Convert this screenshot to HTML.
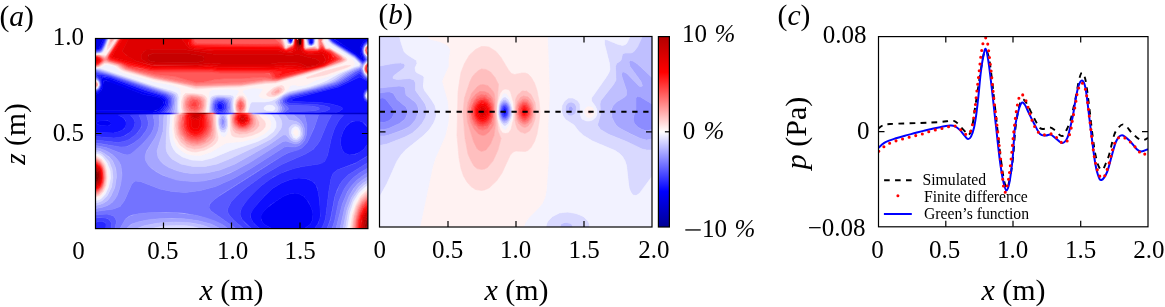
<!DOCTYPE html><html><head><meta charset="utf-8"><style>html,body{margin:0;padding:0;background:#fff;overflow:hidden}svg{display:block;will-change:transform}text{font-family:"Liberation Serif",serif}</style></head><body><svg width="1165" height="307" viewBox="0 0 1165 307" font-family="Liberation Serif, serif"><rect x="0" y="0" width="1165" height="307" fill="#fff"/>
<clipPath id="ca"><rect x="95.5" y="38.5" width="272.4" height="190.1"/></clipPath>
<g clip-path="url(#ca)"><g stroke-width="0.6" fill-rule="evenodd"><path fill="#0000e4" stroke="#0000e4" d="M97 38.5l6.5 0l-3.5 8l-1.5 1.5l-3 0l0 -9.5zM334 38.5l34 0.5l-4.5 2.5l-3.5 6l0 4.5l1.5 4.5l-0.5 1zM104.5 80.5l7 1.5l32 12.5l13.5 2.5l3 1l3 3l0 3.5l-4 4.5l-5 2l-58.5 -0.5l0 -16l3 -1l3.5 -4l1 -5.5z"/>
<path fill="#0000f6" stroke="#0000f6" d="M103 40l0.5 -1.5l1 0.5l-3.5 8.5l-2.5 2l-3 0l0 -1.5l3 0l1.5 -1.5zM290.5 38.5l0.5 0l0.5 1.5l0.5 0l0.5 -1.5l-0.5 2.5l-1.5 1l-0.5 -0.5l-0.5 -3zM310 38.5l2 0l0.5 3l0 1.5l-1 0.5l-1.5 -0.5zM331 38.5l3 0.5l21 13.5l6 5l0.5 -1l-1.5 -4.5l0 -4.5l3.5 -6l4.5 -2.5l0 1l-4 3l-2.5 4.5l0 4.5l2.5 7.5l-1.5 1l-1.5 -1l-6 -5l-13.5 -8.5zM103 77.5l7 1.5l33.5 13l18 5l3.5 3l0 4.5l-2 3l-3 3l-3 1.5l-4.5 1l-57 0l0 -2.5l60 0.5l5 -3.5l3 -4.5l-0.5 -2l-3 -3l-3 -1l-13.5 -2.5l-37.5 -14l-2 0l-0.5 1.5l-1 6l-1.5 3l-2.5 2.5l-3 1l0 -1.5l3 -1l2 -2.5l1.5 -4.5l-0.5 -6zM100 120.5l4.5 0l4 0.5l2.5 1.5l0 1.5l-2 1.5l-1.5 0.5l-7 -0.5l-3.5 -1.5l-0.5 -1.5zM289 194l6 -1l4.5 1l4.5 2.5l3 3.5l4.5 8l1.5 6l-0.5 6l-2.5 4.5l-5.5 4l-33 0l-7 -4l-2.5 -3l-1 -3l0 -3l1.5 -3l4.5 -4.5l8.5 -6.5l7.5 -5z"/>
<path fill="#0d0dff" stroke="#0d0dff" d="M104.5 39l1 -0.5l-1 3l-3 6.5l-3 2l-3 0.5l0 -1l3 0l2.5 -2zM289 38.5l0.5 0l0.5 3l0.5 0.5l1.5 -1l0.5 -2.5l-0.5 3.5l-1.5 0.5l-1.5 -1zM309.5 40l0.5 3l1.5 0.5l1 -0.5l0 -1.5l-0.5 -3l1 0l0 4.5l-1.5 1l-1.5 -0.5l-0.5 -0.5l-0.5 -4.5l0.5 0zM331 38.5l15 10.5l9 5.5l7.5 6l1.5 -1.5l-2.5 -7l0 -4.5l2.5 -5l4 -2.5l0 1l-2.5 1l-2 2.5l-1.5 4.5l0 3l2.5 6l0.5 1.5l-1 1.5l-1.5 0.5l-1.5 -1l-6 -5.5l-19.5 -12l-4 -3l-1 -1.5zM101.5 76l8.5 1.5l35 13l16.5 5l3 1.5l2.5 3l0 3l-1 3l-3.5 4.5l-5 3l-39 1.5l5 3l3 4.5l-1 4.5l-3 3l-4.5 2l-4.5 1l-18 -0.5l0 -19.5l58.5 0l3.5 -1l4 -2.5l3 -3.5l1 -3l-0.5 -3l-3.5 -3l-18 -5l-29.5 -11.5l-9.5 -3l-1.5 0l-1.5 1.5l0.5 6l-1.5 4.5l-2 2.5l-3 1l0 -1l3 -1l2 -3l1 -4.5l-1.5 -6l0.5 -1.5zM99 121l-2.5 1.5l0.5 1.5l3.5 1.5l7 0.5l1.5 -0.5l2 -1.5l0 -1.5l-3.5 -2l-4.5 0zM359.5 77l1.5 0.5l7 4l0 6.5l-3.5 3l-1.5 4.5l1.5 4.5l3.5 3l0 11l-34 -0.5l6 -2.5l2.5 -2l-0.5 -1.5l-3.5 -1.5l-7.5 -2l-10.5 -1.5l-27 -1l-2.5 -1.5l2.5 -1.5l45 -11.5zM218.5 104l1.5 -0.5l2 1l1 3l-1.5 2l-1.5 0l-1.5 -0.5l-1 -3zM355 121l4.5 0l3 1l4.5 5l1 1.5l0 15l-4 5.5l-4.5 3.5l-6 2l-4.5 0.5l-4.5 -2l-2.5 -3.5l-1.5 -6l0.5 -6l2 -6l3 -5l4.5 -4zM290.5 179.5l7.5 -1.5l7.5 0.5l6.5 2.5l4 4l2.5 8l2 18l-0.5 7.5l-2.5 6l-3 4l-10 0l5.5 -4l2.5 -4.5l0.5 -4.5l-1 -6l-3.5 -7.5l-4.5 -5.5l-4.5 -2.5l-6 -1l-6 1.5l-6 3l-10.5 7l-7 6.5l-3 4.5l0 4.5l3.5 4.5l7 4l-11.5 0l-6.5 -5.5l-2.5 -4.5l-0.5 -4.5l2 -4.5l12 -13.5l8 -7.5l9 -5.5z"/>
<path fill="#2626ff" stroke="#2626ff" d="M106 38.5l-4.5 10.5l-2 1.5l-4 0.5l0 -0.5l4.5 -1l1.5 -1.5l4 -9.5zM289 40l0 1.5l1.5 1l1.5 -0.5l1 -3.5l-0.5 3l-2 1l-2 -1l0 -3zM308.5 38.5l1 4.5l2 1l1.5 -1l0.5 -4.5l-0.5 5l-1.5 1l-1.5 0l-1 -1.5zM331 39.5l9 6.5l15 9l7.5 6.5l1.5 -0.5l1 -1.5l-3 -7.5l0.5 -4.5l2 -4.5l3.5 -2l0 0.5l-4 3l-1 3l0 6l2.5 6l-1 1.5l-2 1l-1.5 -1l-6 -5.5l-20.5 -12.5l-3.5 -2.5l-1 -2zM97 74.5l5 0l6.5 1.5l38 14l18 5.5l2 1.5l2 3l0 3l-0.5 3l-3.5 4.5l-4 3l-30 1.5l3.5 4.5l1 3l-0.5 3l-1 3l-2.5 3l-7 4.5l-4.5 1.5l-6 0.5l-18 -1.5l0 -4l18 0.5l6 -1.5l4.5 -2.5l2 -3.5l0 -4.5l-2.5 -3l-5 -3l39 -1.5l6.5 -4.5l2 -3l1 -3l-1 -4.5l-4.5 -3l-16.5 -5l-30.5 -11.5l-10 -3l-3 0l-1.5 1l1 5l0 4.5l-2.5 4.5l-3 1l0 -0.5l3.5 -2l2 -4.5l-1 -4.5l-3 -4.5l-1 -1.5zM358 74l1.5 -0.5l1.5 1l3 3.5l4 2l0 1.5l-7 -4l-1.5 -0.5l-21 10l-45 11.5l-2.5 1.5l2.5 1.5l27 1l10.5 1.5l7.5 2l3.5 1.5l0.5 1.5l-2.5 2l-6 2.5l34 0.5l0 14.5l-2.5 -4l-3 -2.5l-3 -1l-4.5 0l-3 0.5l-3.5 2.5l-3 3l-2.5 4.5l-2 6l-0.5 6l1 4.5l2.5 4.5l5 2.5l3 0l4.5 -1l7 -4.5l4.5 -6l0 12l-11.5 7l-19.5 7.5l-4 3.5l-2 5l-2 11.5l-3.5 28.5l-2 6l-2 4l-7 0l4 -5.5l2 -7.5l-1.5 -19.5l-2 -9l-2.5 -4l-4.5 -3l-4.5 -1.5l-6 -0.5l-9 1.5l-9 3.5l-9 5.5l-7.5 7l-11 12.5l-3.5 6l0 3l2 4.5l2.5 3l5 4l-8.5 0l-9 -8.5l-1.5 -3l-1 -3l1.5 -6l5.5 -8l7.5 -8.5l7 -6l8 -6l10.5 -6l13.5 -5l9 -2l16.5 -2.5l5.5 -2.5l3 -6l4 -18l3 -9l4 -7.5l5 -6l-35.5 -1.5l11 -1l7.5 -1.5l3.5 -2l-0.5 -1.5l-4 -1.5l-9.5 -1.5l-25.5 -1l-3 -1l-1 -1l0 -1.5l1.5 -1.5l3.5 -1.5l29 -6.5l16.5 -4.5l10.5 -5zM367 88.5l1 -0.5l0 1l-3.5 3.5l-0.5 3l0.5 3l3.5 3.5l0 1l-3.5 -3l-1.5 -4.5l1.5 -4.5zM218.5 102l3 0l3 2.5l0 4.5l-3 2.5l-3 -0.5l-2 -2l0 -4.5zM218 104.5l-0.5 3l1 1.5l1.5 0.5l1.5 0l1.5 -2l-1 -3l-2 -1zM98.5 221.5l4 0l3 1.5l1 3l-1 2.5l-10 0l0 -6z"/>
<path fill="#4040ff" stroke="#4040ff" d="M106 38.5l0.5 0l-0.5 1.5l-1.5 4.5l-3 5.5l-3 1.5l-3 0l0 -0.5l4 -0.5l2 -1.5zM288.5 40l0.5 2l1.5 0.5l2 -1l0.5 -3l-0.5 3l-2 1.5l-2 -1.5l-0.5 -3zM308.5 40l0.5 3l1 1.5l1.5 0l2 -1.5l0.5 -4.5l0 3l-1 2.5l-1.5 1l-2 -0.5l-1 -1.5l-0.5 -4.5zM329.5 38.5l3 3l22.5 14l7.5 6.5l1.5 -0.5l1.5 -2l-2.5 -6l0 -6l1 -3l4 -3l-3.5 3l-1.5 4.5l0.5 4.5l2.5 6l-0.5 1.5l-1.5 1.5l-1.5 0.5l-7.5 -7l-22.5 -14zM359.5 71.5l1.5 0.5l4 5.5l3 1.5l0 1l-2.5 -1l-4.5 -4.5l-1.5 -1l-13.5 8l-9 4.5l-16.5 4.5l-29 6.5l-3.5 1.5l-1.5 1.5l0 1.5l1 1l3 1l25.5 1l9.5 1.5l4 1.5l0.5 1.5l-3.5 2l-7.5 1.5l-11 1l35.5 1.5l-5 6l-4 7.5l-3 9l-4 18l-2.5 5.5l-2.5 2l-3.5 1l-19.5 3l-13.5 4l-12 5.5l-12.5 9l-12 12l-6 7.5l-2.5 4.5l-1 4.5l1.5 4.5l3.5 4.5l6.5 5.5l-8 0l-10 -8.5l-5 -6l-1 -3l0.5 -3l3 -6l5.5 -6l8.5 -7.5l18.5 -13.5l18 -10.5l24 -10.5l7.5 -4.5l4 -4.5l3 -4.5l7.5 -18l4 -7.5l-46 -1.5l5 -2l19.5 -0.5l5.5 -0.5l4 -1.5l-1 -1.5l-7 -1.5l-22.5 -0.5l-4 -2.5l-1 -1.5l0.5 -1.5l1.5 -1.5l4.5 -2.5l27 -6l19.5 -5.5l7.5 -3.5zM97 72.5l14 3.5l55 19l2.5 2l1.5 3l0 3l-1 4.5l-2 3l-3.5 3l-24.5 1.5l2.5 6l0.5 3l-1.5 4.5l-4.5 6l-7.5 5.5l-4.5 1.5l-6 1l-22.5 -2.5l0 -3.5l19.5 1.5l6 -1l4.5 -1.5l6 -4.5l3 -5.5l0.5 -3l-1 -3l-3.5 -4.5l30 -1.5l4 -3l2.5 -3l1.5 -3l0 -3l-0.5 -3l-1.5 -1.5l-3.5 -2l-16.5 -5l-33.5 -12.5l-11 -3l-6 0l4 5.5l1 5l-2 4.5l-3.5 2l0 -0.5l3 -1.5l2 -4.5l-0.5 -3l-1.5 -3l-3 -2l0 -4.5zM368 89l-3 3.5l-0.5 3l0.5 3l3 3.5l-3.5 -3.5l-0.5 -3l0.5 -3zM217 101.5l4.5 -1l2.5 1l1.5 1.5l1 3l-0.5 3l-3 3.5l-4.5 0.5l-3 -2.5l-1 -4.5l1 -3zM217 103l-1 3l1 4l3 1.5l3 -1l2 -3l-0.5 -3l-1 -1.5l-3.5 -1.5zM367 156.5l1 -1l0 7l-20 12.5l-4.5 4.5l-3.5 4.5l-3 6l-2.5 7.5l-4 21l-2.5 7.5l-1 2.5l-5.5 0l2 -4l2 -6l3.5 -28.5l2 -11.5l2 -5l4 -3.5l18 -6.5zM97 218l7.5 -0.5l4.5 2l2.5 3.5l-0.5 5.5l-5.5 0l0.5 -4l-0.5 -1.5l-2.5 -1.5l-4.5 0l-3 1l0 -4.5z"/>
<path fill="#5959ff" stroke="#5959ff" d="M106.5 40l-3 7.5l-2 3l-3 1.5l-3 0l0 -0.5l4.5 -0.5l1.5 -1l3 -5.5l2 -6l0.5 0zM288 40l1 2.5l1.5 0.5l2 -1.5l1 -3l-0.5 3l-1 1.5l-1.5 0.5l-1.5 -0.5zM308 40l0.5 3l1.5 1.5l1.5 0.5l2 -2l0.5 -4.5l0 4.5l-1 1.5l-1.5 0.5l-2 -0.5l-1.5 -1.5l-0.5 -4.5zM329.5 39l3 3l22.5 14l7.5 7l1.5 -0.5l2 -3l-2.5 -6l-0.5 -6l1.5 -3l3.5 -2.5l-3.5 4l-1.5 3l0.5 4.5l3.5 6l-1 1.5l-2 2l-1.5 0.5l-8 -7l-22 -14l-3 -2.5zM359.5 70l1.5 0l3.5 6l3.5 2.5l0 0.5l-3 -1.5l-4 -5.5l-1.5 -0.5l-15 9.5l-7.5 3.5l-19.5 5.5l-27 6l-4.5 2.5l-1.5 1.5l-0.5 1.5l1 1.5l4 2.5l22.5 0.5l7 1.5l1 1.5l-4 1.5l-5.5 0.5l-19.5 0.5l-5 2l46 1.5l-4 7.5l-7.5 18l-3 4.5l-4 4.5l-7.5 4.5l-24 10.5l-18 10.5l-18.5 13.5l-8.5 7.5l-5.5 6l-3 6l-0.5 3l1 3l5 6l10 8.5l-7.5 0l-25 -17.5l-2 -3l0.5 -3l2 -3l5.5 -4.5l66 -42l6 -3l12 -4l3 -2.5l3.5 -4l6.5 -13.5l4.5 -13.5l-35.5 -1.5l5.5 -4.5l-0.5 -1.5l-5 -4.5l0 -3l1 -1.5l6.5 -3.5l28.5 -6.5l16.5 -4.5l6 -3l14.5 -9.5zM97 71.5l16.5 4.5l53 18l4 3l1 3l0 4.5l-1.5 4.5l-4 4.5l-19.5 1.5l2 7.5l-0.5 3.5l-1.5 4l-6 8l-6 4.5l-4.5 2.5l-4.5 2l-6 0l-16.5 -3l-7.5 -1l0 -3l22.5 2.5l6 -1l6 -2.5l7.5 -6l4 -6l0 -6l-2.5 -6l24.5 -1.5l4.5 -4.5l1.5 -3l0.5 -4.5l-1.5 -4.5l-5 -3l-17 -5.5l-35.5 -12.5l-15.5 -3.5l0 -1zM97 77.5l2.5 3l1 4.5l-2 4.5l-3 1.5l3 -2l1.5 -4l-1 -4.5l-2 -2.5l-1.5 0l0 -1zM367 90l1 0l-2.5 2.5l-1 3l1 3l2.5 3l-3 -3l-0.5 -3l0.5 -3zM217 100l3 -0.5l3 0l3 2l1 1.5l0.5 3l0 3l-1.5 3l-1.5 1.5l-8 0l-2.5 -3l-0.5 -3l0.5 -3l1 -3zM217 101.5l-1.5 1.5l-1 3l1 4.5l3 2.5l4.5 -0.5l3 -3.5l0.5 -3l-1 -3l-1.5 -1.5l-2.5 -1l-3 0zM368 162.5l0 5.5l-8.5 5l-6.5 5l-4 4.5l-4.5 6l-5.5 12l-4.5 21l-2.5 7l-5 0l3.5 -8.5l4.5 -24l5 -12l3.5 -4.5l4.5 -4.5zM97 214.5l10.5 -0.5l6 2l2 2.5l1 3l-1.5 7l-4 0l0.5 -5.5l-2 -3l-2 -1.5l-6 -1l-6 0.5l0 -3z"/>
<path fill="#7373ff" stroke="#7373ff" d="M107 40l-5 10.5l-2 1.5l-4.5 0.5l4.5 -1l1.5 -1l3 -5l2.5 -7l0.5 0zM287.5 38.5l0.5 3l1 1.5l1.5 0.5l1.5 -0.5l1 -1.5l0.5 -3l-0.5 3l-1 1.5l-1.5 0.5l-1.5 -0.5l-1.5 -3zM308 40l0.5 3.5l1.5 1.5l1.5 0l2.5 -2l0.5 -4.5l0 3l-1.5 3l-1.5 1l-2.5 -1l-1 -1.5zM329.5 39.5l3.5 3.5l22 13.5l7.5 7l1.5 -0.5l3 -3.5l-3.5 -6l-0.5 -4.5l2.5 -4.5l2.5 -2l-3.5 3.5l-1 4.5l1 4.5l3 4.5l-5 5l-7.5 -7.5l-22.5 -14l-2 -1.5zM356.5 70l4.5 -1.5l3 6l4 4l-3.5 -2.5l-3.5 -6l-1.5 0l-3.5 1.5l-14.5 9.5l-6 3l-16.5 4.5l-29.5 7l-3.5 1.5l-3 2.5l-0.5 2l0.5 1.5l5 4.5l0.5 1.5l-5.5 4.5l35.5 1.5l-3.5 10.5l-6 13.5l-2.5 4.5l-4 4l-4.5 2.5l-10.5 3l-12 7l-54.5 34.5l-6 4.5l-5 4.5l-1 3l0 1.5l2 3l25 17.5l-8 0l-5 -3.5l-7.5 -3.5l-16.5 -5.5l-15 -3l-18 -1l-21 1l-13.5 2l-3 1.5l-3 2.5l-5.5 9.5l-5 0l1.5 -7l-1 -3l-2 -2.5l-3 -1l-4.5 -1l-10.5 1l0 -3.5l18 -2.5l6.5 -2.5l4.5 -6l7 -16l1.5 -2l2.5 -1.5l5 0.5l19.5 7.5l12 2.5l13.5 1l15 -2l15 -4l18 -8l16.5 -9.5l34.5 -22l3 -0.5l7.5 0.5l4.5 -1.5l2.5 -2l2.5 -3l2 -6l0.5 -9l-2.5 -10.5l-17 -0.5l-6 -1l3 -4.5l-0.5 -1.5l-3 -4.5l0.5 -3l3 -3l4.5 -2l27 -6.5l19.5 -6l4.5 -2zM97 70.5l13.5 4l55.5 18.5l5 2.5l1.5 3l0.5 6l-2.5 7.5l-1.5 1.5l-16 1.5l1 4.5l0.5 4.5l-1 4.5l-2 4.5l-3.5 5l-6 6.5l-7.5 7l-4.5 3l-3 0.5l-3 -0.5l-18 -7l-10.5 -2l0 -2.5l25.5 4l6 -0.5l6 -3l8 -6l5.5 -7.5l1.5 -4l0.5 -3.5l-2 -7.5l19.5 -1.5l3 -3l1.5 -3l1 -4.5l-0.5 -4.5l-2 -3l-3 -1.5l-57.5 -19.5l-13 -3l0 -1zM97 78l2 2.5l1 4.5l-1.5 4l-3 1.5l3 -2l1 -3.5l-1 -4.5l-1.5 -1.5l-1.5 -0.5l0 -0.5zM367 91l1 -0.5l-2 2l-1 3l1 3l2 2.5l-2.5 -2.5l-1 -3l1 -3zM218.5 98.5l6 0.5l3.5 2.5l1 6l-0.5 3l-1.5 3l-7 0.5l-5.5 -0.5l-0.5 -0.5l-1.5 -5.5l0.5 -4.5l2 -3zM217 100l-2 1.5l-1 3l-0.5 3l0.5 3l2.5 3l8 0l1.5 -1.5l1.5 -3l0 -3l-0.5 -3l-1 -1.5l-3 -2l-3 0zM367 168.5l1 -0.5l0 4.5l-5.5 3.5l-6 4.5l-4.5 5l-4.5 6l-5 12l-6.5 25l-4 0l2.5 -7l4 -19.5l5 -12l4 -6l5.5 -6l6.5 -5z"/>
<path fill="#8c8cff" stroke="#8c8cff" d="M107.5 38.5l-1 4.5l-4 7.5l-2.5 2l-4.5 0.5l4.5 -1l2 -1.5l2.5 -4.5zM287.5 40l1.5 3l1.5 0.5l1.5 -0.5l1 -1.5l1 -3l-0.5 3l-1.5 2l-1.5 0.5l-2 -1zM307 38.5l1.5 5.5l1.5 1.5l1.5 0l1.5 -1l1 -1.5l1 -4.5l0 3l-1.5 3l-2 1l-1.5 0l-1.5 -1l-1 -1.5zM329.5 40l3 3l22.5 14l7.5 7.5l5 -5l-3 -4.5l-1 -4.5l1 -4.5l3.5 -3l-3 3l-1 4.5l0.5 3l3 4.5l0.5 2l-5.5 5.5l0 1l-2.5 -4l-5 -5l-22.5 -14l-3 -2.5l-1 -2.5zM359.5 68l1.5 -1l1.5 1.5l2 6l3.5 3.5l-2.5 -1.5l-1.5 -2l-3 -6l-7.5 3l-13.5 9l-4.5 2l-19.5 6l-27 6.5l-4.5 2l-3 3l-0.5 3l3 4.5l0.5 1.5l-3 4.5l6 1l17 0.5l2.5 10.5l-0.5 9l-2 6l-2.5 3l-2.5 2l-4.5 1.5l-7.5 -0.5l-3 0.5l-34.5 22l-16.5 9.5l-18 8l-15 4l-15 2l-13.5 -1l-12 -2.5l-19.5 -7.5l-5 -0.5l-2.5 1.5l-1.5 2l-7 16l-4.5 6l-6.5 2.5l-18 2.5l0 -3l6 -1l6 -2l4.5 -3l3 -3.5l2.5 -4.5l2.5 -7.5l2 -13.5l-1.5 -9l-4 -6l-5 -4.5l-5.5 -3l-6 -2.5l-4.5 -0.5l0 -2.5l10.5 2l18 7l4.5 0.5l3 -1.5l12 -10.5l8 -10l2 -4.5l1 -4.5l-0.5 -4.5l-1 -4.5l16 -1.5l3 -4.5l1 -7.5l-1 -4.5l-1.5 -2l-3 -1.5l-57 -19l-15 -4l0 -1l15 4.5l57 18.5l5.5 3l1 3l0.5 3l-2 10.5l-0.5 1.5l-13 1.5l0.5 7.5l-1 7.5l-3 7l-9 14l-1 4.5l0 4.5l2.5 4.5l3 3.5l5.5 4l6.5 3.5l15 4.5l15 1.5l9 -0.5l9 -1.5l9 -2.5l10.5 -4l16.5 -9l36 -22.5l3 -0.5l9 3l4.5 -1l3.5 -4l1.5 -4.5l0 -6l-1.5 -4.5l-3.5 -4.5l-5.5 -4.5l-9.5 -0.5l-5 -1l2.5 -4.5l0 -1.5l-2.5 -4.5l0.5 -3l3 -3l6 -3l26 -6l19.5 -6l16.5 -10.5zM97 79l2.5 3l0 3l-1 3.5l-3 1.5l3 -2l1 -3l-1 -4l-1.5 -1.5l-1.5 -0.5l0 -0.5zM368 90.5l-1.5 2l-1 3l1 3l1.5 2l-2 -2l-1 -3l1 -3zM215.5 98.5l3 -1l4.5 0l3.5 1l2.5 1.5l1 3l0.5 4.5l-1.5 6l-6 1l-10 -1l-1.5 -4.5l0.5 -4.5l1.5 -4.5zM218.5 98.5l-3.5 1.5l-2 3l-0.5 4.5l1.5 5.5l0.5 0.5l5.5 0.5l7 -0.5l1.5 -3l0.5 -3l-1 -6l-3.5 -2.5zM223 118.5l1.5 2.5l0 1.5l-1.5 3l-1.5 -1l-0.5 -2l0.5 -3zM367 173l1 -0.5l0 4l-5.5 3.5l-4.5 3.5l-4.5 5l-3.5 6l-5 12l-5 22l-4 0l6 -23.5l5 -12l3.5 -6l5.5 -6l5 -4zM154 212.5l19.5 0l21 2.5l10.5 2.5l9 3l7.5 3.5l6.5 4.5l-8 0l-9 -4.5l-13.5 -3.5l-12 -1.5l-13.5 -1l-16.5 1l-13.5 2l-10.5 3l-5 4.5l-6.5 0l5.5 -9.5l4.5 -3l9 -2.5z"/>
<path fill="#a6a6ff" stroke="#a6a6ff" d="M108 40l-3 7.5l-3 4.5l-2 1l-4.5 0.5l4.5 -1l2.5 -2l3.5 -6.5l2 -5.5zM287 40l1.5 3l2 1l2 -1l1.5 -4.5l-1.5 4.5l-2 1.5l-2.5 -1.5zM307 39l1.5 5.5l1.5 1l1.5 0l1.5 -0.5l1.5 -2l0.5 -4.5l0 3l-1 3l-2.5 1.5l-3 -1l-1 -2zM328 38.5l2 3l2.5 2l22.5 14l5 5l2.5 4l0 -1l5.5 -5.5l0 0.5l-4.5 5l-0.5 3l2 6l3 3l-3.5 -3l-2 -6l-1.5 -1.5l-10 4.5l-13.5 9l-3.5 1.5l-19.5 6l-24 5.5l-6 2.5l-3.5 2.5l-2 3l3 7.5l-2.5 4.5l5 1l9.5 0.5l7 6l2.5 4.5l1 6l-1 6l-2.5 4l-3 2l-3 0.5l-9 -3l-3 0.5l-33 21l-15 8l-16.5 7l-15 3.5l-9 0.5l-9 -0.5l-9 -1l-7.5 -2.5l-7.5 -3l-7 -4l-5.5 -4.5l-3 -4.5l-1 -4.5l1 -4.5l9.5 -15.5l3 -7l1 -7.5l-0.5 -7.5l13 -1.5l0.5 -1.5l2 -10.5l-0.5 -3l-1 -3l-5.5 -3l-57 -18.5l-15 -4.5l0 -0.5l3 0.5l10.5 3l60 19.5l4.5 2l2 3l0.5 3l-1.5 13.5l-10.5 1.5l-1 16.5l-6 19.5l1 6l2 3.5l4 4l5 3l7.5 3l7.5 2l7.5 1l15 -0.5l13.5 -3l15 -6l34.5 -19.5l13.5 -9.5l3 0l4.5 5l3 1.5l3 0.5l3 -1.5l2.5 -3l1 -4.5l-0.5 -4.5l-1.5 -3l-1.5 -2l-3 -2l-7.5 -1.5l-4 -5l-7.5 -1.5l2.5 -4.5l0 -1.5l-2.5 -4.5l1 -3l5 -4.5l5.5 -2.5l22.5 -5l20 -6l6 -3l8.5 -6l9 -4.5l4.5 -1.5l1.5 -1.5l0 -1.5l-1.5 -1.5l-4.5 -4.5l-22.5 -14l-3 -2.5zM367 44l1 0l-2.5 2l-1.5 4.5l0.5 3l3.5 4l0 1l-3 -3.5l-1 -4.5l1 -4.5zM95.5 79l1.5 0.5l1.5 1.5l1 4l-1 3l-3 1.5l2.5 -1.5l1 -3l-0.5 -3.5zM367 91.5l1 0l-1.5 1l-1 3l0.5 1.5l2 3l-1.5 -1.5l-1 -3zM217 97l7.5 0l4.5 1l1.5 1l1 5.5l0 9l-8.5 1.5l-11.5 -1.5l-1 -6l1 -6l2 -3zM215 98.5l-2.5 3l-0.5 3l-0.5 4.5l1.5 4.5l10 1l6 -1l1.5 -6l-0.5 -4.5l-1 -3l-2.5 -1.5l-3.5 -1l-4.5 0zM221.5 116l1.5 -0.5l1.5 1l1.5 4.5l-0.5 4.5l-1 2l-1.5 1l-1.5 -1l-1.5 -3.5l0 -4.5zM221.5 119.5l0 4.5l1.5 1.5l1 -1.5l0.5 -3l-1.5 -2.5zM97 148l4.5 1l6 2.5l6 4l3 3l2.5 3l2 4.5l1 9l-1 7.5l-2 7.5l-2 6l-3 4.5l-3 3l-3.5 2l-6 2l-6 1l0 -3l4.5 -1l4.5 -2l3 -2l3.5 -4.5l4 -9l1.5 -10.5l-0.5 -7.5l-3 -7.5l-3.5 -4.5l-5 -3.5l-4.5 -2.5l-4.5 -0.5l0 -2.5zM365.5 178l2.5 -1.5l0 3.5l-5.5 3.5l-4 3.5l-7 10.5l-4.5 12l-4 19l-3 0l5 -22l4 -10.5l7 -10.5l5 -4.5zM164.5 218.5l18 0l15 2l13.5 3.5l9 4.5l-8.5 0l-8 -3l-10.5 -2.5l-18 -1l-12 0.5l-10.5 1.5l-9.5 2l-6 2.5l-10.5 0l4.5 -4l6.5 -2.5l12 -2.5z"/>
<path fill="#bfbfff" stroke="#bfbfff" d="M108.5 40l-3 7.5l-3 4.5l-2.5 1.5l-4.5 0l4.5 -0.5l2 -1l3 -4.5l3 -9zM287 40l1 3l2.5 1.5l2 -1.5l1.5 -4.5l-1 4.5l-2.5 1.5l-1.5 0l-1.5 -1.5zM306.5 40l1.5 4.5l2 1.5l1.5 0l2.5 -1.5l1 -3l0 -3l0 4.5l-2 3l-3 0.5l-2.5 -2l-1 -3l-0.5 -3zM328 38.5l1.5 3l3 2.5l22.5 14l4.5 4.5l1.5 1.5l0 1.5l-1.5 1.5l-4.5 1.5l-9 4.5l-8.5 6l-6 3l-20 6l-22.5 5l-5.5 2.5l-5 4.5l-1 3l2.5 4.5l0 1.5l-2.5 4.5l7.5 1.5l4 5l7.5 1.5l3 2l1.5 2l1.5 3l0.5 4.5l-1 4.5l-2.5 3l-3 1.5l-3 -0.5l-3 -1.5l-4.5 -5l-3 0l-13.5 9.5l-34.5 19.5l-15 6l-13.5 3l-15 0.5l-7.5 -1l-7.5 -2l-7.5 -3l-5 -3l-4 -4l-2 -3.5l-1 -6l6 -19.5l1 -16.5l10.5 -1.5l1.5 -13.5l-0.5 -3l-2 -3l-4.5 -2l-57 -18.5l-13.5 -4l-3 -0.5l0 -0.5l4.5 0.5l53.5 17.5l17 5l5 2.5l1 1.5l1 3l-0.5 15l-9.5 1.5l-1.5 28.5l0 4.5l1 4.5l2 3l3 3.5l9 5l12 2.5l12 0l12 -2.5l13.5 -5.5l33 -15.5l7.5 -4l5.5 -4.5l4.5 -6l1 -4.5l-1 -4.5l-2 -3l-1 -1.5l-4 -1.5l3 -2.5l1 -2l0 -1.5l-3 -4.5l0 -1.5l8 -6.5l7.5 -3.5l17.5 -3.5l20 -6l6 -3l9 -6l12 -5.5l4.5 -1l0.5 -2.5l-5 -5.5l-24 -15l-2 -2l-1.5 -3zM291.5 125.5l-1.5 1.5l-1 3l1 6l3.5 3.5l3 0.5l1.5 -0.5l2 -2l1.5 -3l-1 -6l-1 -2l-3 -2l-3 0zM367 44.5l1 -0.5l-2.5 2.5l-1 4l0.5 3l3 4l-3.5 -4l-0.5 -3l0.5 -3zM368 60.5l-3 3.5l-2 4.5l1.5 4.5l3.5 4l-3 -2.5l-2 -6l0.5 -3zM97 80l1.5 2l0.5 3l-1 3l-2.5 1l2 -1l1.5 -3l-0.5 -3l-1.5 -1.5l-1.5 -0.5zM214 96.5l4.5 -0.5l9 0l3.5 1l1.5 1.5l0.5 15l-7.5 1.5l1.5 4.5l0 6l-1 3l-1.5 1.5l-1.5 0.5l-1.5 -0.5l-1.5 -1.5l-1.5 -4.5l0 -4.5l1.5 -4.5l-10 -1.5l-0.5 -6l1 -6l1 -3zM216.5 97l-3 1.5l-2 3l-1 6l1 6l11.5 1.5l8.5 -1.5l0 -10.5l-0.5 -3l-1 -1.5l-7 -1.5zM221.5 116.5l-1.5 3l0 4.5l1.5 3.5l1.5 1l1.5 -1l1 -2l0.5 -4.5l-1.5 -4.5l-1.5 -1zM97 150.5l7.5 3l7.5 6.5l3.5 7.5l1 9l-2 12l-4.5 9l-2.5 3l-4.5 3l-7.5 2l0 -2.5l3 -0.5l4 -2l5.5 -6l3.5 -7.5l1.5 -10.5l-1 -7.5l-3 -7.5l-6 -6.5l-3 -2l-4.5 -1l0 -1.5zM367 180.5l1 -0.5l0 3l-4 2l-4.5 4.5l-6.5 9.5l-4.5 12l-3 17.5l-2.5 0l4 -19l4.5 -12l7 -10.5l4 -3.5zM158.5 223l15 -1l15 0.5l13.5 2.5l9.5 3.5l-11.5 0l-11.5 -2.5l-12 -0.5l-13.5 0.5l-11 2.5l-15 0l8 -3z"/>
<path fill="#d9d9ff" stroke="#d9d9ff" d="M109 38.5l-2.5 7.5l-3.5 6.5l-3 1.5l-4.5 0l4.5 -0.5l3 -2zM286.5 40l1 3l1.5 1.5l1.5 0l2.5 -1.5l1 -4.5l-0.5 4l-1.5 2l-1.5 0.5l-2 -0.5l-1.5 -1.5zM306.5 40l1 4.5l1.5 1.5l2.5 0.5l3 -2l1.5 -6l-1 6l-3.5 2l-3 -0.5l-2 -3zM328 40l3 3.5l23 14.5l6 6l-0.5 2.5l-4.5 1l-12 5.5l-9 6l-6 3l-20 6l-17.5 3.5l-7.5 3.5l-8 6.5l0 1.5l3 4.5l0 1.5l-1 2l-3 2.5l4 1.5l1 1.5l2 3l1 4.5l-1 4.5l-4.5 6l-5.5 4.5l-7.5 4l-33 15.5l-13.5 5.5l-12 2.5l-12 0l-12 -2.5l-9 -5l-3 -3.5l-2 -3l-1 -4.5l0 -4.5l1.5 -28.5l9.5 -1.5l0.5 -15l-1 -3l-1 -1.5l-5 -2.5l-17 -5l-53.5 -17.5l-4.5 -0.5l4.5 -0.5l57 18.5l15 4l4.5 2l1.5 1.5l1 3l-0.5 10.5l0.5 6l-8.5 1.5l-1 16.5l0.5 7.5l1.5 6l2 4l2.5 3.5l6.5 4.5l9 3l10.5 0.5l10.5 -2.5l18 -7.5l27 -9l9 -4.5l7 -5.5l2.5 -4.5l0 -4.5l-2 -4.5l-2.5 -3l-5 -1l-19 -0.5l2.5 -9l1.5 -2.5l13.5 0l6 -1l4.5 -2l12 -7.5l22 -5l9.5 -3l7.5 -3l13.5 -7.5l15 -6.5l4 -1l0.5 -1.5l-4.5 -4.5l-22.5 -14l-4.5 -4l-1 -3zM266 106l-2 1.5l0 1.5l2.5 1.5l6 0.5l2.5 -2l0 -1.5l-2.5 -2l-3 -0.5zM368 44l-3 3.5l-0.5 3l0.5 3l3 3.5l-3 -3.5l-0.5 -3l1 -4zM367 62l1 -0.5l-3.5 4l-1 3l1.5 4.5l3 3.5l-3.5 -3.5l-1.5 -4.5l1 -3zM97 80.5l1.5 1.5l0.5 3l-1.5 3l-2 1l1.5 -1l1.5 -3l-0.5 -3l-2.5 -1.5zM367 92.5l1 -0.5l-1.5 2l-0.5 1.5l2 4l-2 -2.5l0 -1.5zM214 95l4.5 -0.5l12 0.5l2.5 0.5l1 1.5l-0.5 9l1 7.5l-7 1.5l0.5 6l0 6l-2 4.5l-1.5 1.5l-3 -0.5l-1.5 -1.5l-1.5 -3.5l-1 -6.5l1 -6l-10 -1.5l1.5 -15l1 -2zM213 97l-1.5 1.5l-1 3l-1 6l0.5 6l10 1.5l-1.5 4.5l0 4.5l1.5 4.5l1.5 1.5l1.5 0.5l1.5 -0.5l1.5 -1.5l1 -3l0 -6l-1.5 -4.5l7.5 -1.5l-0.5 -15l-2 -1.5l-7.5 -1l-6 0zM292 125l4.5 -0.5l3 2l1 2l1 6l-1.5 3l-2 2l-1.5 0.5l-3 -0.5l-2.5 -2l-1.5 -3l-0.5 -3l0 -3zM294.5 127l-2.5 2l-0.5 4l2 4.5l3 1l3 -2.5l0.5 -4.5l-2 -4l-1.5 -0.5zM97 152.5l3 0.5l3.5 2.5l5.5 6l3 7.5l1 9l-1.5 9l-4.5 9l-5.5 5l-6 2l0 -2.5l3 -0.5l3 -1.5l4.5 -5.5l2.5 -6l2 -9l-0.5 -7.5l-3 -7.5l-3 -4.5l-2.5 -2.5l-3 -1.5l-3 -0.5l0 -2zM367 183.5l1 -0.5l0 2.5l-4 2.5l-3.5 3.5l-6 9l-4.5 12l-2.5 16l-2 0l3 -17.5l4.5 -12l6.5 -9.5zM164.5 226l19.5 -0.5l9 1l7 2l-48 0z"/>
<path fill="#f2f2ff" stroke="#f2f2ff" d="M109 38.5l-1 4.5l-3.5 9l-3 2l-6 0.5l6 -1l2 -1.5l3 -6zM284.5 38.5l1.5 0l1 4.5l1.5 1.5l2 0.5l3 -2l1 -4.5l-1 4.5l-1.5 1.5l-1.5 1l-3 -1l-2.5 -3zM305.5 38.5l1.5 6l1 1.5l2 1l3 -1l2 -1.5l1 -6l0.5 0l0.5 3l-1 3l-4.5 2.5l-4.5 -1l-1.5 -1.5zM325 38.5l2 0l1 3l4.5 4l22.5 14l4.5 4.5l-0.5 1.5l-4 1l-15 6.5l-13.5 7.5l-7.5 3l-9.5 3l-22 5l-12 7.5l-4.5 2l-6 1l-13.5 0l-1.5 2.5l-2.5 9l19 0.5l5 1l2.5 3l2 4.5l0 4.5l-2.5 4.5l-7 5.5l-9 4.5l-27 9l-18 7.5l-10.5 2.5l-10.5 -0.5l-9 -3l-6.5 -4.5l-2.5 -3.5l-2 -4l-1.5 -6l-0.5 -7.5l1 -16.5l8.5 -1.5l-0.5 -6l0.5 -10.5l-1 -3l-1.5 -1.5l-4.5 -2l-15 -4l-57 -18.5l-4.5 0l7.5 -1.5l3 -2l6 1l3.5 1.5l4 4l3 1.5l28.5 8l1.5 1l19.5 3.5l7.5 3l1 1.5l0.5 3l-1 13.5l1 7.5l-8 1.5l-1 12l1.5 12l3.5 7.5l5.5 5l4.5 2.5l4.5 1l9 0.5l10.5 -3.5l15 -9l16.5 -1.5l13.5 -3.5l9 -4.5l5 -5l1 -4.5l-0.5 -3l-2.5 -3l-3.5 -3l-18.5 -1.5l2 -6l0 -6l-1.5 -4.5l-3.5 -4.5l-0.5 -1.5l1.5 -1l9 -2l9 0.5l1 1l-3 4.5l-1 1.5l0.5 1.5l4 1.5l9 0l4.5 -1.5l5 -3l6 -4.5l1.5 -3l2.5 -1.5l3.5 0l2.5 1l8 -1l9 -4.5l11.5 -3.5l22 -8.5l5.5 -3l0.5 -3l-4 -4.5l-20 -10.5l-4 -3l-1.5 -3zM368 44.5l-2.5 3l-0.5 3l0.5 3l2.5 3l-3 -3l-0.5 -3l1 -3.5zM367 62.5l1 -0.5l-3.5 3.5l-0.5 3l1 4.5l3 3l-3 -3l-1.5 -4.5l1 -3zM96 80.5l2 1.5l0.5 3l-1.5 3l-1.5 0.5l1.5 -1l1 -2.5l-0.5 -3l-2 -1.5zM214 89.5l16.5 -0.5l6 0.5l3 1.5l-3 5l-2 5.5l0 6l1 6l-7 1.5l0 15l-1.5 4.5l-2.5 3l-3 -1l-3.5 -6.5l-1.5 -7.5l0.5 -7.5l-10.5 -1.5l2.5 -21l1 -1.5zM213 95.5l-2.5 1.5l-1 3l-1 13.5l10 1.5l-1 6l1 6.5l1.5 3.5l1.5 1.5l3 0.5l1.5 -1.5l2 -4.5l0 -6l-0.5 -6l7 -1.5l-1 -7.5l0.5 -9l-1 -1.5l-2.5 -0.5l-12 -0.5zM368 92l-1.5 3.5l1.5 3.5l-1.5 -2l-0.5 -1.5l0.5 -1.5zM266.5 105.5l3 -0.5l3 0.5l2.5 2l0 1.5l-2.5 2l-6 -0.5l-2.5 -1.5l0 -1.5zM295 126.5l3 1l2 4l-0.5 4.5l-3 2.5l-3 -1l-2 -4.5l0.5 -4zM294.5 130l-1 3l1.5 2.5l1.5 0.5l1.5 -1.5l0 -3l-1.5 -2zM97 154l3 1l2.5 2l4.5 6l3 7.5l0.5 7.5l-2 9l-3.5 7.5l-5 5l-4.5 1l0 -1.5l4.5 -1.5l5 -6l2.5 -6l1 -7.5l-0.5 -7.5l-2.5 -7.5l-5 -6l-5 -1.5l0 -1.5zM365.5 187l2.5 -1.5l0 2.5l-7 5.5l-6 10l-3.5 10.5l-2.5 14.5l-1.5 0l2.5 -14.5l3.5 -12l5.5 -9z"/>
<path fill="#fff2f2" stroke="#fff2f2" d="M109.5 40l-2 6l0 3.5l3.5 -3.5l2.5 -4.5l0.5 1.5l-8 12.5l-10.5 -1l6 -0.5l1.5 -0.5l2 -3l4.5 -12zM115 39.5l1 0.5l-1 2l-1.5 -0.5zM284.5 40l1.5 3.5l1.5 1l3 1l1.5 -1l1.5 -1.5l1 -4.5l-0.5 3l-1.5 3l-2 1l-3 0l-1.5 2.5l-2.5 -8l-0.5 -1.5l1.5 0zM305.5 40l0 4.5l3 2.5l3 0l4.5 -2.5l1 -3l-0.5 -3l1 0l0.5 9l-1 0l-1 -1.5l-4.5 1.5l-6 0.5l-1.5 -9.5l1 0zM323.5 38.5l1.5 0l0 3l1.5 3l1.5 1.5l24 13.5l2.5 3l-0.5 3l-5.5 3l-22 8.5l-11.5 3.5l-9 4.5l-8 1l-2.5 -1l-3.5 0l-2.5 1.5l-1.5 3l-6 4.5l-5 3l-4.5 1.5l-9 0l-4 -1.5l-0.5 -1.5l1 -1.5l3 -4.5l-1 -1l-9 -0.5l-9 2l-1.5 1l0.5 1.5l3.5 4.5l1.5 4.5l0 6l-2 6l18.5 1.5l3.5 3l2.5 3l0.5 3l-1 4.5l-5 5l-9 4.5l-13.5 3.5l-16.5 1.5l-15 9l-10.5 3.5l-9 -0.5l-4.5 -1l-4.5 -2.5l-5.5 -5l-3.5 -7.5l-1.5 -12l1 -12l8 -1.5l-1 -7.5l1 -13.5l-0.5 -3l-1 -1.5l-7.5 -3l-19.5 -3.5l-1.5 -1l-28.5 -8l-3 -1.5l-4 -4l-3.5 -1.5l-6 -1l-5 2.5l-5.5 0.5l4.5 -1l4.5 -3l3 0l8 2l5.5 4l3 1.5l19.5 5.5l12 3.5l24 4.5l16.5 4.5l19.5 -1.5l24 -0.5l25.5 -3.5l10.5 -0.5l48 -13.5l18 -6l5 -2.5l0.5 -1.5l-4 -3.5l-12 -7.5l-1.5 -0.5l-3 0l-0.5 -0.5l-3 -6zM345.5 65.5l-20.5 5.5l-18.5 6.5l0.5 1l18 -3.5l23 -8l2.5 -1.5l-1.5 -0.5zM277 86.5l-3.5 1.5l-4 3l-3 3l0.5 1.5l2.5 1l4.5 0l4.5 -1.5l4 -2.5l2 -3l-1 -3l-2 -1zM212.5 89.5l-2.5 1.5l-1 1.5l-2.5 21l10.5 1.5l-0.5 7.5l1.5 7.5l3.5 6.5l3 1l2.5 -3l1.5 -4.5l0 -15l7 -1.5l-1 -6l0 -6l2 -5.5l3 -5l-3 -1.5l-9 -0.5zM185 94l-2.5 3l-1 6l0 6l1.5 4.5l-7.5 1.5l-1 3l-0.5 10.5l1.5 9l4.5 7.5l7 5l4.5 1.5l4.5 0.5l9 -2l7.5 -4l3 -2.5l2 -3l0.5 -3l-2 -12l0 -10.5l-11 -1.5l1 -4.5l1 -7.5l-0.5 -3.5l-1.5 -2l-3 -1.5l-9 -1l-4.5 -0.5zM238 97l-2 3l-1 4.5l0.5 4.5l1 4.5l-6.5 1.5l0.5 15l1 4.5l1 1.5l2.5 1l7.5 0.5l9 -2l7.5 -3l3.5 -2.5l2.5 -3l0.5 -3l-1 -3l-6 -6l-14 -1.5l2 -6l-0.5 -7.5l-2 -3l-1.5 -1l-3 0zM367 45.5l1 -0.5l-2.5 2.5l-0.5 3l0.5 3l2.5 3l-2.5 -3l-0.5 -3l0.5 -3zM368 62l-3 3.5l-0.5 3l1 4.5l2.5 2.5l-3 -2.5l-1 -4.5l0.5 -3zM97 81.5l1 3.5l-1 2.5l-1.5 0.5l1.5 -1l1 -2l-1 -3l-1.5 -1zM295 129.5l1.5 0l1.5 2l0 3l-1.5 1.5l-1.5 -0.5l-1.5 -2.5l0 -1.5zM97 155.5l4.5 2.5l4 5l2.5 7.5l0.5 7.5l-1.5 9l-3 6l-4 4.5l-4.5 1.5l0 -2l4.5 -1.5l3.5 -4l2.5 -6l1 -7.5l-0.5 -7.5l-1.5 -6l-4.5 -6l-2 -1l-3 -1l0 -1zM367 188.5l1 -0.5l0 2l-4 3l-3 3l-5 9l-3.5 10.5l-2 13l-1.5 0l2.5 -14.5l3.5 -10.5l5 -9z"/>
<path fill="#ffd9d9" stroke="#ffd9d9" d="M110 40l-1 5.5l5.5 -7l1.5 0l0.5 1l0.5 -1l0.5 0l-5 9l-6.5 9l-1.5 0l-3 -1l-6 -0.5l10.5 0.5l8 -12.5l-0.5 -1.5l-2.5 4.5l-3.5 3.5l0 -3.5l2.5 -7.5zM114.5 40l-1 1.5l1.5 0.5l1 -2l-1 -0.5zM283 38.5l3 9.5l1.5 -2.5l3 0l2 -1l1.5 -3l0.5 -3l-1 5.5l-1.5 1.5l-3 0.5l-3 2.5l-1 -1l-2 -6l-0.5 -3zM304 38.5l1.5 9.5l6 -0.5l4.5 -1.5l1.5 2l0.5 -9.5l0.5 9l-1 1l-3 -1.5l-9 1.5l-1.5 -6zM322 40l1.5 -1.5l-0.5 3l3.5 6.5l3 0l10.5 6l6 4l1 1.5l-0.5 1.5l-5 2.5l-18 6l-48 13.5l-10.5 0.5l-25.5 3.5l-24 0.5l-19.5 1.5l-16.5 -4.5l-24 -4.5l-12 -3.5l-19.5 -5.5l-3 -1.5l-5.5 -4l-8 -2l-3 0l-4.5 3l-4.5 1l4.5 -1.5l4.5 -3.5l3 0l10 3l3.5 3l4.5 2l27 7.5l43.5 9.5l45 -2l25.5 -3l9 -0.5l46.5 -13l22.5 -8l1 -1.5l-4 -3.5l-10.5 -6.5l-1.5 -1l-3 0.5l-1.5 -1.5l-3 -6zM367 45.5l1 0l-2 2l-1 3l1 3l2 2.5l-2.5 -2.5l-0.5 -3l0.5 -3zM368 62.5l-2.5 3l-1 3l1 4l2.5 3l-2.5 -2.5l-1 -4.5l0.5 -3zM346 65.5l4.5 0l-2.5 1.5l-23 8l-18 3.5l-0.5 -1l18.5 -6.5zM97 82l1 3l-1 2l-1.5 0.5l1.5 -1l0.5 -1.5l-0.5 -2.5l-1.5 -1.5zM277 86.5l4.5 -1l2 1l1 3l-2 3l-4 2.5l-4.5 1.5l-4.5 0l-2.5 -1l-0.5 -1.5l3 -3l4 -3zM277.5 88l-5 3l-1 3l1 1l3 0l5 -2.5l1.5 -3l-0.5 -1l-1.5 -1zM185.5 93.5l7.5 0l9 1l3 1.5l1.5 2l0.5 3.5l-1 7.5l-1 4.5l11 1.5l0 10.5l2 12l-0.5 3l-2 3l-3 2.5l-7.5 4l-9 2l-4.5 -0.5l-4.5 -1.5l-7 -5l-4.5 -7.5l-1.5 -9l0.5 -10.5l1 -3l7.5 -1.5l-1.5 -6l0 -6l2 -6zM186 95.5l-2 3l-1.5 6l0.5 4.5l2 4.5l-7.5 1.5l-1 3l-1 9l1.5 7.5l4 7.5l6 5l7.5 2l7.5 -1l4.5 -2l4 -2.5l3 -3l1.5 -3l0.5 -4.5l-1 -18l-11.5 -1.5l2 -4.5l0.5 -4.5l0 -4.5l-2 -3l-4.5 -2l-6 -0.5l-4.5 0zM238 97l1.5 -1l3 0l1.5 1l2 3l0.5 7.5l-2 6l14 1.5l6 6l1 3l-0.5 3l-2.5 3l-3.5 2.5l-7.5 3l-9 2l-7.5 -0.5l-2.5 -1l-1 -1.5l-1 -4.5l-0.5 -15l6.5 -1.5l-1 -4.5l-0.5 -4.5l1 -4.5zM238 98.5l-1.5 3l-0.5 4.5l0.5 4.5l1.5 3l-7 1.5l0 6l1 7l2 3.5l4 2l6 0.5l6 -1l5.5 -3l3 -3l1 -3l-1 -3l-3 -6l-12 -1.5l1.5 -3l0.5 -3l0 -6l-3 -4l-3 0zM97 156.5l4.5 3l3.5 5l1.5 6l0.5 7.5l-1 7.5l-2.5 6l-3.5 4l-4.5 1.5l0 -1l4.5 -2l3 -4l2.5 -6l0.5 -6l-0.5 -7.5l-2 -6l-3.5 -5l-4.5 -2l0 -1zM367 190.5l1 -0.5l0 2l-5.5 4.5l-5.5 8.5l-3 10.5l-2 13l-1.5 0l2 -13l3.5 -10.5l5 -9z"/>
<path fill="#ffbfbf" stroke="#ffbfbf" d="M110.5 38.5l0 3l4 -3l-5.5 7zM118 38.5l-4.5 8l-7.5 10.5l-1.5 0.5l-4.5 -2l-4.5 0l3 -0.5l6 1.5l1.5 0zM282.5 40l2.5 7.5l1 1l3 -2.5l3 -0.5l1 -1l2 -6l-1.5 6l-1.5 1.5l-3 0.5l-3 2.5l-1.5 -1.5l-2.5 -6l0 -3l0.5 0zM304 40l1 7.5l0.5 1l9 -1.5l3 1.5l1 -1l0 -9l0.5 9.5l-1.5 1l-3 -1.5l-9 1.5l-1.5 -3.5zM322 39l1 -0.5l-1 1.5l0 1.5l3 6l1.5 1.5l3 -0.5l1.5 1l10.5 6.5l4 3.5l-1 1.5l-22.5 8l-46.5 13l-9 0.5l-25.5 3l-45 2l-43.5 -9.5l-27 -7.5l-4.5 -2l-3.5 -3l-10 -3l-3 0l-6 4l-3 0.5l3 -1l6 -4l1.5 -0.5l12 3.5l5 3.5l2.5 1l28.5 8.5l42 8l45 -1l24 -3.5l10.5 -0.5l49.5 -13.5l18 -6.5l1 -1.5l-2.5 -3l-10.5 -6.5l-4.5 -0.5l-1.5 -1l-3.5 -7zM368 45.5l-2 2l-0.5 3l1 3l1.5 2l-2 -2l-1 -3l1 -3zM367 63.5l1 -0.5l-2.5 2.5l-0.5 3l0.5 3l2.5 3.5l-2 -2l-1.5 -3l0.5 -3zM96.5 82l1 3l-0.5 1.5l-1.5 1l2 -2.5l-0.5 -2l-1.5 -1zM278.5 87.5l2.5 0.5l1 1.5l-1.5 3l-5 2.5l-3 0l-1 -1l0 -1.5l2.5 -3zM275 91l-0.5 1.5l1 0.5l3 -0.5l1 -1.5l-1 -1.5zM187 95l4.5 -0.5l6 0.5l6 2l2 3l0 4.5l-0.5 4.5l-2 4.5l11.5 1.5l1 18l-0.5 4.5l-1.5 3l-3 3l-4 2.5l-4.5 2l-7.5 1l-7.5 -2l-6 -5l-4 -7.5l-1.5 -9l1.5 -9l0.5 -1.5l7.5 -1.5l-2 -4.5l0 -6l1.5 -6zM187 97l-2 3l-1 6l1 4.5l2.5 3l-8.5 1.5l-1.5 9l1 9l3 6l5.5 5l6 2l7.5 -0.5l7.5 -3.5l3.5 -3l1.5 -3l1 -6l-1 -15l-12.5 -1.5l2.5 -3l1 -4.5l0 -6l-2 -2.5l-3 -1l-6 -1l-3 0zM239.5 97.5l3 0l3 4l0 6l-0.5 3l-1.5 3l12 1.5l3.5 7.5l0 3l-2 3l-4 3l-6 2l-7.5 0.5l-4.5 -1.5l-2 -2.5l-1.5 -4.5l-0.5 -6l0 -4.5l7 -1.5l-2 -4.5l0 -4.5l1 -4.5zM238 100l-1 3l-0.5 4.5l1.5 4.5l1.5 1.5l-7 1.5l-1 4.5l1 4.5l1 3.5l3 3l4.5 1l6 -0.5l4.5 -2l2.5 -2l1.5 -3l0 -4.5l-2 -4.5l-12 -1.5l1.5 -1.5l1.5 -3l0.5 -6l-2.5 -4l-3 0zM97 158l3.5 2l3 4.5l2 6l0.5 7.5l-1 7.5l-3 6l-3.5 3.5l-3 1l0 -1.5l3 -0.5l3.5 -4l2 -4.5l1.5 -7.5l-0.5 -6l-1.5 -6l-3.5 -5l-4.5 -2l0 -1.5zM367 192.5l1 -0.5l0 2l-5.5 5l-5 9l-3 10.5l-1.5 10l-1 0l2 -13l2.5 -9l4.5 -8z"/>
<path fill="#ffa6a6" stroke="#ffa6a6" d="M112 39.5l1 -1l1 0l-0.5 0.5l-1.5 2l-1.5 0.5l0.5 -3l0.5 0zM118 39l-4.5 8.5l-7.5 10.5l-1.5 0.5l-4.5 -2.5l-4.5 -0.5l3 0l6 2l1.5 -0.5zM281.5 38.5l3 9l1.5 1.5l7.5 -4.5l1.5 -6l-1.5 6l-6.5 4.5l-2 0l-3 -6l-1 -3l0 -1.5zM303.5 40l0.5 5.5l1.5 3.5l9 -1.5l3 1.5l1.5 -1.5l0 -9l0.5 4.5l-0.5 5.5l-1.5 1l-3 -1l-9 1l-1.5 -2zM322 38.5l-0.5 3l3.5 7l1.5 1l4.5 0.5l10.5 6.5l2.5 3l-1 1.5l-18 6.5l-49.5 13.5l-10.5 0.5l-24 3.5l-45 1l-42 -8l-28.5 -8.5l-2.5 -1l-5 -3.5l-12 -3.5l-1.5 0.5l-6 4l-3 0.5l3 -1l6 -5l1.5 0l12 3.5l7.5 5l14.5 4l16.5 4.5l39.5 8l46.5 -1.5l22.5 -3.5l10.5 0l48 -13l18 -6.5l1.5 -1.5l-2.5 -3l-9.5 -6l-6 -1.5l-4 -7.5zM368 45.5l-1.5 2l-1 3l1 3l1.5 2l-1.5 -2l-1 -3l0.5 -3zM367 63.5l1 0l-2 2l-0.5 4.5l2.5 4.5l-2 -1.5l-1 -3l0 -3zM95.5 82l1.5 1l0.5 2l-2 2l1.5 -2zM275.5 91l3 -1.5l1 1.5l-1 1.5l-3 0.5l-1 -0.5zM187 97l3 -1.5l3 0l6 1l3 1l2 2.5l0 6l-1 4.5l-2.5 3l12.5 1.5l1 15l-1 6l-1.5 3l-3.5 3l-7.5 3.5l-7.5 0.5l-6 -2l-5.5 -5l-3 -6l-1 -9l1.5 -9l8.5 -1.5l-2.5 -3l-1 -4.5l1 -6zM190 97l-3.5 3l-1 6l1.5 4.5l4 3l-10.5 1.5l-1.5 7.5l0.5 7.5l3 7.5l4.5 4l6 2.5l6 -0.5l7.5 -3l3 -3l2 -3l1.5 -6l-1 -10.5l-0.5 -3l-15 -1.5l3 -1.5l2.5 -3l1 -3l-0.5 -4.5l-2 -3l-1.5 -1l-4.5 -1zM239.5 99l1.5 -0.5l2.5 1.5l1.5 4.5l-1 6l-2.5 3l12 1.5l2 4.5l0 4.5l-1.5 3l-4 3l-4.5 1.5l-4.5 0l-4.5 -1l-3 -3l-1.5 -5l0 -4.5l0.5 -3l7 -1.5l-2.5 -3l-0.5 -4.5l1 -4.5zM240 100l-1.5 1.5l-1 1.5l-0.5 4.5l1 3l1.5 1.5l1.5 0.5l1.5 -1l1.5 -2.5l0 -4.5l-1.5 -4zM233.5 115l-1 4.5l1 4.5l1.5 3l3 2l4.5 1l4.5 -0.5l4 -2.5l2 -3l0.5 -4.5l-1.5 -4.5l-11 -1.5zM97 159l3.5 2.5l3 4.5l1.5 6l0.5 6l-1.5 7.5l-2 4.5l-3.5 4l-3 0.5l0 -1l3 -1l3.5 -4l1.5 -4.5l1 -6l0 -6l-2 -6l-3 -4.5l-4 -1.5l0 -1zM368 194l0 2l-5.5 5l-4 7l-2.5 9l-2 11.5l-1 0l1.5 -11.5l3.5 -10.5l4.5 -7.5z"/>
<path fill="#ff8c8c" stroke="#ff8c8c" d="M118 40l-4 7.5l-7 10.5l-0.5 1.5l2 1.5l11 3l6 4l12 3.5l17.5 4.5l41 8l45 -1.5l24 -3l9 0.5l4.5 -0.5l43.5 -12l17.5 -6.5l2 -1.5l0 -1.5l-10.5 -7l-6 -1.5l-4.5 -8l-0.5 6l-1 1.5l-1.5 1l-4.5 -1l-7.5 1l-2 -2.5l0 -9l0.5 9l1.5 2l9 -1l3 1l1 -0.5l1 -1.5l0 -4.5l-0.5 -4.5l0.5 0l1 3l1.5 -3l-1 3l4 7.5l6 1.5l9.5 6l2.5 3l-1.5 1.5l-18 6.5l-46.5 13l-12 0l-22.5 3.5l-46.5 1.5l-39.5 -8l-16.5 -4.5l-14.5 -4l-7.5 -5l-12 -3.5l-1.5 0l-6 5l-3 0.5l4.5 -2l3.5 -3l0.5 -1.5l-4 -3l-4.5 -1l4.5 0.5l4.5 2.5l1.5 -0.5zM281 40l3 7.5l2 2l7.5 -4.5l1.5 -6.5l-0.5 4.5l-1 2.5l-7.5 4l-1.5 -0.5l-1 -1.5l-3 -6l-0.5 -3l1 0zM368 46l-1.5 1.5l-0.5 3l2 4.5l-1.5 -1.5l-1 -3l1 -3zM368 63.5l-2 2l-0.5 3l0.5 3l2 2.5l-2.5 -2.5l-0.5 -3l1 -3zM96.5 83.5l0.5 1.5l-1.5 1.5l0.5 -1.5l-0.5 -2.5zM191.5 96.5l7.5 1l1.5 1l2 3l0.5 4.5l-1 3l-2.5 3l-3 1.5l15 1.5l1 4.5l0 10.5l-2 6l-5.5 5.5l-7.5 2.5l-6 -0.5l-6 -3l-4.5 -6l-2 -6l0 -6l1.5 -7.5l10.5 -1.5l-4 -3l-1 -3l-0.5 -3l0.5 -3l1.5 -3zM190.5 98.5l-2 2l-1 2.5l-0.5 3l1 3l2 2l2.5 1l5 -1l2.5 -2l1.5 -3l0 -3l-1 -2.5l-1.5 -1.5l-3 -1zM182 115l-1.5 7.5l0 6l2.5 6l3.5 4.5l5 2.5l6 0.5l6 -2l4.5 -4l2.5 -4.5l1 -4.5l-0.5 -6l-1 -6l-15.5 -1.5zM241 100l2 1.5l1.5 4.5l-1.5 4.5l-2 2l-1.5 -0.5l-1.5 -1.5l-1 -4.5l1 -4l1.5 -2zM239.5 101.5l-1.5 3l0 3l1.5 3l1.5 0.5l2 -2l0.5 -4.5l-2 -3zM233.5 115l7.5 -1.5l11 1.5l1.5 4.5l-0.5 4.5l-2 3l-4 2.5l-4.5 0.5l-4.5 -1l-3 -2l-1.5 -3l-1 -4.5zM234.5 115l-1 3l0.5 4.5l1.5 3l2.5 2l3 1l4.5 0l3 -1.5l3 -3l1 -4.5l-2 -4.5l-9.5 -1zM97 160l3 2l2.5 4l2 6l0 6l-1 6l-1.5 4.5l-3.5 4l-3 1l0 -1l3 -1l3 -3.5l2 -5.5l0.5 -4.5l-0.5 -6l-1 -4.5l-2.5 -4.5l-2 -1.5l-2.5 -1l0 -0.5zM368 196l0 1.5l-4.5 4.5l-4.5 7.5l-2.5 9l-1 10l-1.5 0l2 -11.5l2.5 -9l4 -7z"/>
<path fill="#ff7373" stroke="#ff7373" d="M119.5 38.5l-11 18l-0.5 3l1 1l12 3.5l6 3.5l10.5 3l18 4l19.5 2l21 6l7.5 -0.5l18 -3.5l21 0l21 -1.5l3 0l5.5 2l5 0l50 -13.5l11 -4.5l2.5 -1.5l-0.5 -1.5l-9 -6.5l-6 -1.5l-3 -4.5l-1.5 0l-1 3.5l-2 1l-4.5 -0.5l-7.5 0.5l-1.5 -1l-0.5 -1.5l-0.5 -9l0.5 9l2 2.5l7.5 -1l4.5 1l1.5 -1l1 -1.5l0.5 -6l4.5 8l4.5 0.5l3 2l7 4.5l2 1.5l0 1.5l-2 1.5l-16 6l-45 12.5l-4.5 0.5l-9 -0.5l-24 3l-45 1.5l-41 -8l-17.5 -4.5l-12 -3.5l-6 -4l-11 -3l-2 -1.5l0.5 -1.5zM275.5 38.5l4.5 0l0.5 3l3 6l1 1.5l1.5 0.5l7.5 -4l1 -2.5l0.5 -4.5l0 4.5l-1.5 3l-7.5 4l-2 -1l-2.5 -4.5zM320.5 39.5l1 -1l-1 3l-1 -3zM367 47l1 -0.5l-1 1l-1 3l2 4l-1 -1l-1 -3zM97 56l3 0.5l4 3l-0.5 1.5l-3.5 3l-4.5 1.5l4 -1.5l3 -3l0 -1.5l-1 -1.5l-3 -1.5l-3 0zM368 63.5l-1.5 2l-1 3l0.5 3l2 2.5l-2 -2.5l-0.5 -3l0.5 -3zM191.5 98l6 0.5l2.5 1.5l1 1.5l0.5 3l-0.5 3l-2 2.5l-3 2l-4.5 -0.5l-2 -1l-2 -3l-0.5 -3l1 -3l2 -2.5zM191.5 100l-2 3l0 4.5l1.5 1.5l2 1l4.5 -1l2 -3l0 -3l-1 -1.5l-2.5 -2zM241 101l2 2l0.5 3l-0.5 3l-2 2l-1.5 -0.5l-1.5 -4.5l0.5 -3l1 -1.5zM240 103l-1 1.5l0 3l0.5 1.5l1.5 0.5l1.5 -2l0 -2l-1 -2.5zM182.5 115l12 -1.5l15.5 1.5l1 6l0.5 6l-1 4.5l-2.5 4.5l-4.5 4l-6 2l-6 -0.5l-5 -2.5l-3.5 -4.5l-2.5 -6l0 -6zM183.5 115l-1.5 7.5l0 4.5l2 6l3 4l4.5 2.5l6 0.5l4.5 -1.5l4.5 -3.5l2 -3.5l1.5 -4.5l-0.5 -6l-1.5 -6l-13.5 -1zM235 115l6 -1l9.5 1l2 4.5l-1 4.5l-3 3l-3 1.5l-4.5 0l-3 -1l-2.5 -2l-1.5 -3l-0.5 -4.5zM235.5 115l-1 3l0 3l1 3l2.5 2.5l3 1l3 0l3 -1l3 -2.5l1 -4.5l-1.5 -4.5l-8.5 -1zM97 161l3 2l2.5 4.5l1 4.5l0.5 6l-1 6l-2 4.5l-2.5 3l-3 1l0 -1l3 -1l3 -3.5l1.5 -4.5l0.5 -4.5l-0.5 -6l-1 -4.5l-3 -4.5l-3.5 -1.5l0 -1zM367 198.5l1 -1l0 2l-4.5 4l-4 7.5l-2.5 9l-1 8.5l-0.5 0l1 -10l2.5 -9l3.5 -6.5z"/>
<path fill="#ff5959" stroke="#ff5959" d="M119.5 38.5l-10.5 18l-0.5 1.5l0.5 1.5l12 3.5l7.5 4l10.5 2.5l15 2.5l55.5 0l10.5 1l45 0l6 1.5l1.5 3l1.5 0.5l3 0.5l4.5 -1l40 -10.5l8 -3l9 -4.5l0 -1.5l-1.5 -1.5l-6 -4.5l-6 -2l-3 -3.5l-2 2.5l-2.5 1.5l-4.5 -0.5l-7.5 0.5l-2 -1.5l-0.5 -1.5l0 -9l0.5 9l0.5 1.5l1.5 1l7.5 -0.5l4.5 0.5l2 -1l1 -3.5l1.5 0l3 4.5l4.5 0.5l2.5 1.5l6.5 4.5l1.5 1.5l0.5 1.5l-18.5 7.5l-43.5 12l-6 0l-7.5 -2l-22.5 1.5l-18 0l-9 1l-12 2.5l-7.5 0.5l-21 -6l-19.5 -2l-18 -4l-10.5 -3l-6 -3.5l-12 -3.5l-1 -1l0.5 -3zM194.5 38.5l80.5 0l6.5 6l2.5 4.5l2 1l7.5 -4l1.5 -3l0.5 -4.5l-0.5 4.5l-1.5 3.5l-7.5 4l-2.5 -1.5l-2 -3.5l-3 -1.5l-81 -0.5l-3 -1.5l-0.5 -3.5zM367 47.5l1 -0.5l-1.5 3.5l1.5 4l-2 -4zM97 56.5l4.5 1.5l1 1.5l0 1.5l-4 3.5l-3 1l3 -1.5l3.5 -3l0 -1.5l-1.5 -1.5l-5 -1.5zM367 65l1 -0.5l-2 2.5l0 3l2 3.5l-2 -3.5l0 -3zM193 99.5l4 0.5l2.5 3l-1 4.5l-1 1.5l-3 1l-3.5 -1l-2 -3l1 -4.5zM192.5 103l-1 1.5l1.5 2.5l1.5 0l1.5 -0.5l0.5 -2l-0.5 -2l-1.5 -0.5zM241 102.5l1.5 3.5l-1.5 3.5l-1.5 -0.5l-0.5 -3l0.5 -2.5zM184 115l10.5 -1l13.5 1l1.5 6l0.5 6l-1.5 4.5l-2 3.5l-4.5 3.5l-4.5 1.5l-6 -0.5l-4.5 -2.5l-3 -4l-2 -6l0.5 -9zM185 115l-1.5 7.5l0 4.5l1.5 4.5l2 3l4.5 3l4.5 0.5l4.5 -1l3.5 -2.5l2.5 -3l1.5 -4.5l0 -4.5l-1.5 -7.5l-12 -1zM236.5 115l4.5 -1l8.5 1l1.5 4.5l-1 4.5l-3 2.5l-3 1l-3 0l-3 -1l-2.5 -2.5l-1 -3l0.5 -4.5l0.5 -1.5zM236.5 115l-1.5 3l0.5 3l2.5 4l3 1.5l3 0l4.5 -2.5l1.5 -4.5l-1.5 -4.5l-7.5 -0.5zM97 162l3 2l2 3.5l1 4.5l0.5 6l-0.5 4.5l-1.5 4.5l-3 3.5l-3 1l0 -0.5l3 -1.5l2 -2.5l2 -4.5l0.5 -4.5l-1 -9l-2.5 -4.5l-2.5 -2l-1.5 0l0 -1zM367 200l1 -0.5l0 1.5l-4 4l-4 7.5l-2 7.5l-1 8.5l-1 0l1 -8.5l2.5 -9l3 -6z"/>
<path fill="#ff4040" stroke="#ff4040" d="M119.5 39.5l1 -1l-3.5 6l-7 10.5l-1 3l1 1.5l11 3l7.5 3.5l10.5 2.5l15 2l55.5 0l9 1l49.5 0l5.5 1.5l2 4l3.5 0.5l13 -4l28 -6.5l8.5 -3l8 -4.5l0.5 -1.5l-3 -3l-4 -3l-5 -1.5l-3 -3l-3 3l-1.5 0.5l-4.5 -0.5l-6 0.5l-3 -1l-1 -2.5l0 -9l0 9l1 2l1.5 1l7.5 -0.5l4.5 0.5l2.5 -1.5l2 -2.5l3 3.5l6 2l7.5 6l0 1.5l-2.5 1.5l-11 5l-48 12.5l-4.5 -1l-1.5 -3l-1.5 -1l-4.5 -0.5l-45 0l-10.5 -1l-55.5 0l-15 -2.5l-10.5 -2.5l-7.5 -4l-12 -3.5l-0.5 -1.5l0.5 -2zM193 38.5l1 0l0.5 3.5l3 1.5l81 0.5l3 1.5l2 3.5l2.5 1.5l7.5 -4l1.5 -3.5l0.5 -4.5l-0.5 5.5l-1.5 3l-7.5 3.5l-3 -1.5l-1.5 -2l-3 -1.5l-82.5 -0.5l-3 -2l-1 -4.5zM97 56.5l3.5 1.5l1.5 1.5l0 1.5l-3.5 3l-3 1l3 -1.5l2.5 -2.5l0 -1.5l-1 -1.5l-4.5 -1zM367 65l1 -0.5l-1.5 2.5l-0.5 3l2 3l-2 -3l0 -3zM193 102.5l1.5 -0.5l1.5 0.5l0.5 2l0 1.5l-2 1l-2.5 -1l-0.5 -1.5zM185.5 115l9 -1l12 1l1.5 7.5l0 4.5l-1.5 4.5l-2.5 3l-3.5 2.5l-4.5 1l-4.5 -0.5l-4.5 -3l-2.5 -4.5l-1 -4.5l1 -9zM186 115l-1 10.5l1 4.5l2 3l3.5 2.5l3 1l4.5 -1l3 -1.5l3 -3.5l1.5 -3.5l0 -3.5l-1 -8.5l-11 -1zM236.5 115l4.5 -0.5l7.5 0.5l1.5 4.5l-1.5 4.5l-4.5 2.5l-3 0l-3 -1.5l-2.5 -4l-0.5 -3zM237.5 115l-1.5 3l0 3l2 3l1.5 1l4.5 0.5l3 -1.5l1.5 -1.5l0.5 -4.5l-1.5 -3l-6.5 -0.5zM97 162.5l3 2.5l2 4l1 9l-0.5 4.5l-2 4.5l-2 2.5l-3 1.5l0 -1l3 -1.5l1.5 -1.5l2 -4.5l0.5 -4.5l0 -4.5l-1 -4.5l-3 -4.5l-3 -1.5l0 -0.5zM367 201.5l1 -0.5l0 1.5l-4 4.5l-3 5.5l-2 7.5l-1 8.5l-1 0l1 -8.5l2 -7.5l3 -6z"/>
<path fill="#ff2626" stroke="#ff2626" d="M121 38.5l-10.5 16.5l-0.5 1.5l0.5 2l10.5 3l7.5 3l24 5l57 -0.5l7.5 1l51 0l13.5 1.5l0 1.5l-2.5 1.5l1 1l6 -2l20 -3.5l12.5 -3l8.5 -3l7 -4.5l0 -1.5l-0.5 -1.5l-3 -3l-5.5 -2.5l-3 -2l-4.5 2.5l-10.5 0l-3 -1l-1.5 -3l0 -9l0.5 10.5l2.5 2l12 0l1.5 -0.5l3 -3l3 3l4.5 1.5l2.5 1.5l5 4.5l-0.5 1.5l-2.5 1.5l-9 4.5l-46.5 12l-3 -0.5l-2 -4l-5.5 -1.5l-49.5 0l-9 -1l-57 0l-24 -4.5l-7.5 -3.5l-11 -3l-1 -1.5l1 -3zM191.5 38.5l0.5 0l1 4.5l3 2l82.5 0.5l3 1.5l1.5 2l3 1.5l7.5 -3.5l1.5 -3l0.5 -5.5l-0.5 6l-1 3l-2 1.5l-6 2l-3 -1.5l-1.5 -1.5l-3 -1l-82.5 -1l-3 -1l-1.5 -1.5l-0.5 -5zM97 57l3 1l1 1.5l0 1.5l-2.5 2.5l-3 1l3 -1.5l2 -2l0 -1.5l-2 -1.5l-3 -0.5zM368 64.5l-1.5 4l1.5 4.5l-1 -1.5l-1 -3zM187 115l9 -1l9.5 1l1 8.5l0 3.5l-1.5 3.5l-3 3.5l-3 1.5l-4.5 1l-4.5 -2l-3 -3l-1.5 -3l-0.5 -4.5l0.5 -7.5l0.5 -1.5zM187.5 115l-1 1.5l0 9l2 5l3 3l3 0.5l3 0l3 -1.5l2.5 -2.5l1.5 -3l0 -10.5l-0.5 -1.5l-9.5 -1zM238 115l4.5 -0.5l5 0.5l2 4.5l-1 3l-1.5 1.5l-1.5 1l-3 1l-4.5 -2l-2 -4.5l0.5 -3zM238.5 115l-1.5 3l0 3l1 1.5l1.5 1.5l3 1l3 -1l1.5 -1l1.5 -3.5l-1 -3l-1 -1.5zM97 163.5l3 2.5l1.5 3l1 4.5l0 4.5l-0.5 4.5l-2 4.5l-1.5 1.5l-3 1.5l0 -1l3 -1l1.5 -2l2 -8l0 -4.5l-1 -4.5l-2.5 -3.5l-3 -1.5l0 -1zM367 203.5l1 -1l0 2l-4 4l-2.5 5.5l-2 7.5l-0.5 7l-1 0l0.5 -7l2 -7.5l3 -6z"/>
<path fill="#ff0d0d" stroke="#ff0d0d" d="M121 38.5l1 0l-10.5 16.5l-0.5 1.5l0.5 1.5l15.5 4.5l27 6l55.5 -0.5l7.5 1l58.5 0.5l6 -1l15 1.5l14.5 -1.5l11 -3l6.5 -3l3 -3l-0.5 -3l-2 -3l-7 -3.5l-4.5 2l-9 0.5l-4.5 -1l-1.5 -2.5l0 -10.5l0 9l1.5 3l3 1l10.5 0l4.5 -2.5l3 2l5.5 2.5l3.5 4.5l0 1.5l-2 1.5l-8.5 4.5l-16.5 4l-21 4l-6 2l-1 -1l2.5 -1.5l0 -1.5l-13.5 -1.5l-51 0l-7.5 -1l-57 0.5l-24 -5l-7.5 -3l-10.5 -3l-0.5 -2l0.5 -1.5zM190 38.5l1 0l0.5 4.5l0.5 1.5l4 1.5l82.5 1l3 1l1.5 1.5l3 1.5l6 -2l2 -1.5l1 -3l1 -6l-0.5 6l-1 3l-2.5 2.5l-6 1.5l-1.5 -0.5l-4.5 -3l-1.5 0l-64.5 0l-18 -0.5l-3 -1l-2.5 -2l-1 -3l0 -3zM97 57.5l3 1.5l0.5 2l-2 2l-3 1l0 -1l2.5 -0.5l1.5 -1.5l0 -1.5l-1 -0.5l-3 -1l0 -0.5zM188.5 115l7.5 -0.5l8 0.5l0.5 1.5l0 10.5l-1.5 3l-2.5 2.5l-3 1.5l-3 0l-3 -0.5l-3 -3l-1.5 -3.5l-0.5 -3l0 -7.5l1 -1.5zM188.5 115l-0.5 1.5l1 4.5l-0.5 4.5l1.5 3.5l1.5 1.5l3 1.5l4.5 -1l3 -4l0 -6l1.5 -4.5l-1 -1.5l-8 -0.5zM239.5 115l7 0l1 1.5l0.5 4.5l-2.5 3l-1.5 0.5l-3 0l-3 -2l-1 -4.5l1 -2.5zM240 115l-2 3l0 3l3 2.5l3 0l1.5 -0.5l2 -3.5l-1 -3l-1.5 -1.5zM97 164.5l2 1.5l2 3l1 4.5l0 4.5l-2 8l-1.5 2l-3 1l0 -0.5l3 -1.5l1.5 -2.5l1.5 -6.5l-0.5 -7.5l-2.5 -4.5l-3 -1.5l0 -0.5zM368 204.5l0 1.5l-3 3.5l-2.5 4.5l-2 7.5l-1 7l-0.5 0l0.5 -7l2 -7.5l2.5 -5.5z"/>
<path fill="#f90000" stroke="#f90000" d="M121 40l1 -1.5l0.5 0l-0.5 1.5l-8.5 13.5l-1 3l2.5 1.5l39 9l43.5 0.5l12 -1l7.5 1l57 0.5l9 -1l19.5 1.5l5.5 0l7 -1.5l9 -3l4 -3l1 -3l-1 -3l-1.5 -1.5l-4.5 -2l-4.5 1l-6 1l-4.5 -0.5l-3 -1l-2 -3l0.5 -10.5l0 10.5l1.5 2.5l4.5 1l9 -0.5l4.5 -2l7 3.5l1.5 1.5l1 3l-1 3l-2 1.5l-6.5 3l-12 3l-12 1.5l-16.5 -1.5l-6 1l-58.5 -0.5l-7.5 -1l-55.5 0.5l-27 -6l-15.5 -4.5l-0.5 -1.5l0.5 -1.5zM188.5 38.5l1 0l0.5 4.5l1.5 2.5l3 1.5l3 0.5l81 0.5l1.5 0l4.5 3l1.5 0.5l6 -1.5l2.5 -2.5l1 -3l0.5 -6l0 6l-1 4l-1.5 1.5l-7.5 2l-7.5 -2.5l-64.5 0l-18 -1l-3 -0.5l-3.5 -2l-1.5 -4.5l0 -3zM97 58l2.5 1.5l0 1.5l-1.5 1.5l-2.5 0.5l0 -0.5l3 -1.5l-0.5 -1.5l-2.5 -0.5l0 -1zM188.5 115l7.5 -0.5l6.5 0.5l1 1.5l-1.5 4.5l0 6l-3 4l-4.5 1l-3 -1.5l-1.5 -1.5l-1.5 -3.5l0.5 -4.5l-1 -4.5zM189.5 115l-0.5 1.5l2.5 4.5l0 4.5l0.5 1.5l2.5 2l3 -0.5l2 -3l0 -4.5l2.5 -4.5l-0.5 -1.5zM241 115l4 0l2.5 3l-0.5 3l-3 2.5l-3 0l-3 -2.5l0 -3l0.5 -1.5zM239.5 116.5l-1 3l1 2l3 1.5l3 -1.5l1 -2l-1 -3l-3 -1.5zM97 165l2.5 2.5l1.5 3l0.5 7.5l-0.5 4.5l-1.5 3l-2.5 2.5l-1.5 0.5l0 -1l3 -1.5l1 -2l1.5 -6l0 -4.5l-1 -4l-1.5 -2.5l-3 -1.5l0 -1zM368 206l0 1.5l-3 3.5l-2 4.5l-2 6l-0.5 7l-1 0l1 -7l1.5 -6l3 -6z"/>
<path fill="#ec0000" stroke="#ec0000" d="M122.5 39l6.5 -0.5l-6.5 12l0.5 1.5l3 3l10 6l13.5 4l4.5 1l43.5 0l12 -1l9 1l55.5 0l9 -1l15 1l7.5 2l7 -1l5.5 -1.5l6 -3l1.5 -1.5l-0.5 -3.5l-1.5 -2.5l-1.5 -1l-13.5 0.5l-3 -0.5l-3 -2l-1.5 -3l1 -10.5l0 10.5l2 3l3 1l4.5 0.5l6 -1l4.5 -1l4.5 2l1.5 1.5l1 4.5l-2.5 3l-2.5 1.5l-9 3l-9.5 2l-22.5 -2l-9 1l-57 -0.5l-7.5 -1l-13.5 1l-43.5 -0.5l-37.5 -9l-2.5 -1.5l1 -3zM182.5 38.5l5.5 0l0 4.5l1.5 3l5 2.5l19.5 1l64.5 0l7.5 2.5l6 -1l2.5 -2l1 -3l0.5 -7.5l0 10.5l-1 2l-1.5 1l-7.5 1l-7.5 -2l-64.5 0l-19.5 -1.5l-4.5 -1l-3 -2.5l-5.5 -7.5zM97 59l1 0.5l0.5 1.5l-3 1.5l0 -3.5zM190 115l11.5 0l0.5 1.5l-2.5 4.5l0 4.5l-2 3l-3 0.5l-2.5 -2l-0.5 -1.5l0 -4.5l-2.5 -4.5zM191 115l-0.5 1.5l0.5 1.5l3.5 2l1.5 0l3 -1l2 -2.5l-1 -1.5zM241 115.5l3 0l2.5 2.5l-0.5 3l-2 1.5l-3 0l-2 -1.5l0 -3zM241.5 116.5l-1.5 1.5l-0.5 1.5l1.5 2l3 0l1.5 -2l-0.5 -1.5l-1 -1.5zM97 166l2 1.5l1.5 3l0.5 7.5l-0.5 4.5l-1.5 3l-2 1.5l-1.5 0.5l0 -0.5l1.5 -0.5l2 -2.5l2 -6l-1 -7.5l-2 -3l-2.5 -1.5l0 -0.5zM368 207.5l0 1.5l-2.5 3l-2.5 5l-2 11.5l-0.5 0l2 -12l2.5 -5.5z"/>
<path fill="#df0000" stroke="#df0000" d="M128.5 39l53 -0.5l5.5 7.5l3 2.5l4.5 1l19.5 1.5l64.5 0l7.5 2l6 -0.5l3.5 -2l0.5 -3l0 -9l1 9l1 2.5l1.5 0l2 -4l0.5 -7.5l-1 10.5l1.5 3l3 2l3 0.5l13.5 -0.5l2.5 2.5l1 4.5l-3.5 3l-4 1.5l-12.5 2.5l-7.5 -2l-13.5 -1l-10.5 1l-55.5 0l-9 -1l-12 1l-45 -0.5l-16.5 -4.5l-8 -4.5l-5 -4.5l-0.5 -1.5zM146 50.5l-2.5 1.5l-2 3l0 3l0.5 1.5l6 3.5l7.5 1.5l43.5 0l12 -1.5l10.5 1l49.5 0l9 -1.5l7.5 0l12 0.5l7.5 3.5l7.5 -1l3.5 -1.5l1.5 -1.5l-0.5 -1.5l-3 -2l-9 -2l-9 -2.5l-7.5 1l-12 -1l-63 0l-31.5 -5l-31.5 0zM191.5 115l8.5 0l1 1.5l-2 2.5l-3 1l-1.5 0l-3.5 -2l-0.5 -1.5zM192.5 115l-1 1.5l3 2l3 -0.5l2 -1.5l-1 -1.5zM242.5 116l1.5 0.5l1 1.5l0.5 1.5l-1 1.5l-2 1l-2 -1l-1 -1.5l0.5 -1.5l1 -1.5zM242 118l-0.5 1.5l1 0.5l1 -0.5l-0.5 -1.5zM97 166.5l1.5 1.5l1.5 3l1 7l-2 6l-2 2.5l-1.5 0.5l0 -1l1.5 -0.5l1.5 -1.5l2 -6l-0.5 -4.5l-0.5 -3l-2.5 -3l-1.5 -0.5l0 -1zM368 209l0 2l-4 6.5l-2 11l-1 0l2 -11.5l2.5 -5z"/>
<path fill="#d20000" stroke="#d20000" d="M296.5 40l0.5 6l1 1.5l1.5 0.5l1.5 -1.5l1 -8l-0.5 7.5l-2 4l-1.5 0l-1 -2.5zM146.5 50l6 -0.5l31.5 0l31.5 5l63 0l12 1l7.5 -1l9 2.5l9 2l3 2l0.5 1.5l-1.5 1.5l-3.5 1.5l-7.5 1l-7.5 -3.5l-12 -0.5l-7.5 0l-9 1.5l-49.5 0l-10.5 -1l-12 1.5l-43.5 0l-7.5 -1.5l-6 -3.5l-0.5 -1.5l0 -3l2 -3zM148.5 55l-0.5 1.5l0 3l2 1.5l5.5 1l42 0.5l5.5 -1.5l1 -1.5l0 -1.5l-1 -1.5l-2.5 -1l-13.5 -2l-33 0l-3 0.5zM193 115l5.5 0l1 1.5l-2 1.5l-3 0.5l-3 -2zM194 116.5l3 0l-1 -1zM242.5 118l1 1.5l-1 0.5l-1 -0.5zM97 167.5l1.5 1.5l1.5 3l0.5 6l-2 6l-1.5 1.5l-1.5 0.5l0 -0.5l1.5 -0.5l1.5 -2l1.5 -5l0 -4.5l-1 -3l-2 -2.5l-1.5 0l0 -1zM368 211l0 1.5l-4 7.5l-1 8.5l-1 0l1.5 -10l2 -4.5z"/>
<path fill="#c60000" stroke="#c60000" d="M296.5 40l1 6l2 1l1.5 -1.5l1 -7l-0.5 6l-0.5 2l-1.5 1.5l-1.5 -0.5l-1 -1.5zM149.5 54.5l4.5 -1l33 0l13.5 2l2.5 1l1 1.5l0 1.5l-1 1.5l-5.5 1.5l-42 -0.5l-5.5 -1l-2 -1.5l0 -3zM194.5 115.5l1.5 0l1 1l-2.5 0.5l-0.5 -0.5zM97 168l2.5 4l0.5 6l-1.5 5l-1.5 2l-1.5 0.5l0 -1l1.5 -0.5l1.5 -2l1 -4l-1 -7l-1.5 -2l-1.5 -0.5l0 -0.5zM367 213.5l1 -1l0 2l-2.5 4.5l-2 9.5l-0.5 0l1 -8.5z"/>
<path fill="#b90000" stroke="#b90000" d="M296.5 38.5l1 6l0.5 1l1.5 0.5l1.5 -1.5l0.5 -6l-0.5 6l-1.5 2.5l-1.5 -0.5l-1 -2zM97 169l2 3l0.5 6l-1.5 4.5l-1 1.5l-1.5 0.5l0 -1l1.5 -0.5l1.5 -2l0.5 -3l-0.5 -5.5l-1.5 -2.5l-1.5 -0.5l0 -1zM368 214.5l0 2l-3 6.5l-0.5 5.5l-1 0l1.5 -8.5z"/>
<path fill="#ac0000" stroke="#ac0000" d="M297 40l1 4.5l1.5 1l1.5 -2l0.5 -5l-0.5 6l-1.5 1.5l-1.5 -0.5l-0.5 -1zM97 170l2 3.5l0 4.5l-1.5 4.5l-2 1l0 -0.5l2 -2l1 -3l0 -4.5l-1.5 -2.5l-1.5 -1l0 -0.5zM368 216.5l-2.5 12l-1 0l1 -6.5z"/>
<path fill="#9f0000" stroke="#9f0000" d="M297.5 40l0.5 4l1.5 1l1.5 -2l0.5 -4.5l-0.5 5l-1.5 2l-1.5 -1zM96 170.5l2.5 3l0 3l-1 4.5l-2 2l0 -1l1.5 -1l0.5 -1.5l0.5 -3l-1 -4.5l-1.5 -1l0 -1zM368 218.5l-1.5 10l-1 0l0.5 -5.5z"/>
<path fill="#930000" stroke="#930000" d="M297.5 40l0.5 3.5l1.5 0.5l1.5 -2l0.5 -3.5l-0.5 4.5l-1.5 2l-1.5 -1l-0.5 -1zM97 172l1 3l0 3l-1 3l-1.5 1l0 -1.5l1.5 -1l0.5 -3l-0.5 -3l-1.5 -1l0 -1.5zM368 221.5l-0.5 7l-1 0z"/>
<path fill="#860000" stroke="#860000" d="M298 38.5l3 0l0 3.5l-1.5 2l-1.5 -1zM97 173.5l0.5 4.5l-0.5 1.5l-1.5 1l0 -8z"/></g></g>
<linearGradient id="ifg" gradientUnits="userSpaceOnUse" x1="95.5" y1="0" x2="367.9" y2="0"><stop offset="0" stop-color="#0000a0"/><stop offset="0.27" stop-color="#0000ff"/><stop offset="0.31" stop-color="#ffd0d0"/><stop offset="0.34" stop-color="#d00000"/><stop offset="0.4" stop-color="#800000"/><stop offset="0.43" stop-color="#ff4040"/><stop offset="0.45" stop-color="#0000ff"/><stop offset="0.5" stop-color="#4040ff"/><stop offset="0.52" stop-color="#e00000"/><stop offset="0.56" stop-color="#ff4040"/><stop offset="0.58" stop-color="#8080ff"/><stop offset="0.65" stop-color="#0000ff"/><stop offset="1" stop-color="#0000c0"/></linearGradient>
<line x1="95.5" y1="113.5" x2="367.9" y2="113.5" stroke="url(#ifg)" stroke-width="1.6"/>
<rect x="95.5" y="38.5" width="272.4" height="190.1" fill="none" stroke="#000" stroke-width="1.2"/>
<path d="M163.5 38.5v6M163.5 228.6v-6M231.5 38.5v6M231.5 228.6v-6M300.0 38.5v6M300.0 228.6v-6M95.5 133.5h6M367.9 133.5h-6" stroke="#000" stroke-width="1.2" fill="none"/>
<clipPath id="cb"><rect x="379.5" y="36.5" width="272.5" height="190.5"/></clipPath>
<g clip-path="url(#cb)"><g stroke-width="0.6" fill-rule="evenodd"><path fill="#0d0dff" stroke="#0d0dff" d="M504 108.5l1.5 0l1 3l-1 3l-1.5 0l-1.5 -3z"/>
<path fill="#2626ff" stroke="#2626ff" d="M504 107l1.5 0l1.5 1.5l0.5 3l-0.5 3l-1.5 1.5l-1.5 0l-1.5 -1.5l-0.5 -3l0.5 -3zM504 108.5l-1 1.5l0 3l1 1.5l1.5 0l1 -1.5l0 -3l-1 -1.5z"/>
<path fill="#4040ff" stroke="#4040ff" d="M502.5 106.5l1.5 -1l1.5 0.5l2 2.5l0.5 4.5l-1 3l-1.5 1l-1.5 0.5l-1.5 -1l-1 -2l-0.5 -4.5zM504 107l-1.5 1.5l-0.5 4.5l2 3l1.5 0l1.5 -2l0.5 -4l-2 -3z"/>
<path fill="#5959ff" stroke="#5959ff" d="M502.5 105.5l1.5 -1l1.5 0l1.5 1l1.5 3l0 6l-1.5 3l-1.5 1l-1.5 0l-1.5 -1l-1.5 -3l-0.5 -4.5zM502.5 107l-1.5 3l0.5 4.5l1 2l1.5 1l1.5 -0.5l1.5 -1l1 -3l-0.5 -4.5l-2 -2.5l-1.5 -0.5z"/>
<path fill="#7373ff" stroke="#7373ff" d="M381 98l3 0l1.5 1l7.5 9.5l1 3l0 3l-2.5 4l-3 2.5l-4.5 1.5l-4.5 -0.5l0 -23.5zM504 103.5l1.5 0l2.5 2l1.5 3l0 3l-0.5 3l-1 3l-2.5 2l-1.5 0l-1.5 -0.5l-1.5 -2.5l-1 -5l1 -5.5l1.5 -2zM502.5 105.5l-2 4.5l0.5 4.5l1.5 3l1.5 1l1.5 0l1.5 -1l1.5 -3l0 -6l-1.5 -3l-1.5 -1l-1.5 0z"/>
<path fill="#8c8cff" stroke="#8c8cff" d="M385.5 92l4.5 0l3.5 1.5l3.5 6l9 7.5l1.5 3l0 3l-2.5 6l-5.5 4.5l-11 5l-4.5 1l-4.5 0l0 -7.5l4.5 0.5l5 -2l3.5 -3l1.5 -4.5l-1 -4.5l-7.5 -9.5l-3 -1l-3 0.5l0 -5.5zM637.5 96l3 1l11.5 7l0 25.5l-5.5 1l-4.5 -1l-5 -3l-3.5 -4.5l0 -4.5l2.5 -10l0 -9.5zM504 102l3 1l1.5 2l1.5 3.5l0.5 3l-0.5 3l-1.5 3.5l-1.5 2l-3 1l-1.5 -1l-2 -2.5l-1 -6l1 -6l2 -2.5zM503 104l-2.5 3l-0.5 6l1 3.5l1.5 2.5l3 0.5l1.5 -1l1.5 -2.5l1 -6l-1 -3l-1.5 -2.5l-1.5 -1z"/>
<path fill="#a6a6ff" stroke="#a6a6ff" d="M630 60.5l3 0.5l4.5 3l14.5 13.5l0 26.5l-11.5 -7l-3.5 -0.5l-1 1.5l0 10.5l-3 10.5l1.5 4.5l4.5 4.5l6 2.5l3 0l4 -1l0 9.5l-1 0.5l-4.5 0.5l-6 -1.5l-18.5 -9l-4.5 -3l-2.5 -3l-3 -6l-0.5 -7.5l1.5 -4.5l3.5 -3.5l7.5 -4.5l2.5 -2.5l0 -4.5l-4.5 -13.5l-0.5 -3l1 -2l1.5 0l3 1.5l12 12.5l1.5 0.5l2 -0.5l-1.5 -4.5l-11 -15l-1 -4.5zM382.5 87.5l16.5 -1.5l4.5 0.5l1.5 1.5l1 7l9.5 7.5l2 3l1 4.5l-1 4.5l-1.5 4.5l-3.5 4.5l-3 3l-6 3l-10.5 4l-7.5 2.5l-4.5 0.5l-1.5 -0.5l0 -6.5l4.5 0l4.5 -1l11 -5l4 -3l2.5 -3l2 -6l-2 -4.5l-9 -7.5l-4 -6.5l-3 -1l-3 0l-7.5 1l0 -5zM504 101l3 0.5l2 2.5l1.5 3l0.5 4.5l-0.5 4.5l-1.5 3l-2 2.5l-3 0.5l-1.5 -0.5l-2 -2.5l-1 -3l-0.5 -4.5l0.5 -4.5l1 -3l2 -2.5zM503.5 102.5l-2.5 2l-1 2.5l-0.5 6l2 6l2.5 2l1.5 0l2.5 -2l1.5 -3l0.5 -6l-0.5 -3l-1.5 -3l-2.5 -2zM570 106l1.5 0.5l1.5 2l0 1.5l-1.5 1.5l-1.5 0l-1.5 -1.5l0 -2z"/>
<path fill="#bfbfff" stroke="#bfbfff" d="M642 36.5l10 0l0 41l-14.5 -13.5l-4.5 -3l-3 -0.5l-1 1.5l1 4.5l11 15l1.5 4.5l-2 0.5l-1.5 -0.5l-12 -12.5l-3 -1.5l-1.5 0l-1 2l0.5 3l4.5 13.5l0 4.5l-2.5 2.5l-7.5 4.5l-3 3l-2 3.5l0 4.5l0.5 4.5l2 4.5l2 3l3.5 3l11 6l10 4.5l6 1.5l5.5 -1l0 11l-2.5 0.5l-7.5 -1.5l-15.5 -7.5l-18.5 -7.5l-7.5 -4.5l-3 -4.5l3 -10.5l-0.5 -10.5l0.5 -3l13 -16.5l2.5 -4.5l-0.5 -13.5l1 -3l4.5 -3l1.5 -6.5l2.5 -1l6.5 0l3 -2l3.5 -5.5zM393 63.5l7.5 -0.5l3 0.5l1.5 1.5l0 1.5l-1.5 2l-9.5 7l-1 1.5l0 1.5l4.5 1l12 -1l4.5 1.5l1.5 3l0 7.5l9.5 13.5l1.5 4.5l0 4.5l-1 4.5l-3.5 6l-4 4.5l-5.5 5l-7.5 4l-18 7l-7.5 1.5l0 -9.5l4.5 0l4.5 -1l13.5 -4.5l6 -3l3 -2.5l4 -4.5l2 -4.5l1.5 -4.5l0 -3l-1.5 -4l-3 -3.5l-8 -6l-1 -7l-1.5 -1.5l-4.5 -0.5l-19.5 2l0 -22zM504 99l3 1l2 2.5l2 4.5l0.5 4.5l-0.5 4.5l-2 4.5l-2 2.5l-3 1l-2.5 -2l-2 -3l-1.5 -7.5l1.5 -7.5l1.5 -2.5zM503.5 101l-2.5 2l-1 2.5l-1 6l0.5 4.5l1 3l2 2.5l1.5 0.5l3 -0.5l2 -2.5l1.5 -3l0.5 -4.5l-0.5 -4.5l-2 -3.5l-3 -2.5zM570 102l2.5 0.5l2 1l1.5 2l0.5 3l-1 4.5l-1 1.5l-3 1.5l-3 -0.5l-1.5 -1.5l-2 -4l1 -4.5l1 -2zM569 107l-0.5 1.5l0 1.5l1.5 1.5l1.5 0l1.5 -1.5l0 -1.5l-0.5 -1.5l-2.5 -1zM565.5 222.5l3 0l3 1.5l1 1.5l0.5 1.5l-13 0l1 -3z"/>
<path fill="#d9d9ff" stroke="#d9d9ff" d="M381 36.5l18.5 0l2 7.5l2.5 7.5l3 3l9.5 6l0.5 3l-2 4.5l0.5 3l1 1.5l6 3l1.5 1.5l-1 9l1 3l10 15l2 4.5l0.5 4.5l-1.5 7.5l-5.5 9l-6.5 6.5l-16.5 13l-6.5 7.5l-3.5 6l-9.5 21l-7.5 13.5l0 -51.5l7.5 -1.5l18 -7l7.5 -4l5.5 -5l4 -4.5l3.5 -6l1.5 -6l-0.5 -4.5l-2 -4.5l-9 -12l0 -7.5l-1.5 -3l-4.5 -1.5l-12 1l-4.5 -1l0 -1.5l1 -1.5l10 -7.5l1 -3l-1.5 -1.5l-3 -0.5l-4.5 0l-16.5 3l0 -29.5zM630 37l12 -0.5l-1 3l-3.5 7.5l-3.5 4.5l-2.5 1.5l-6.5 0l-2.5 1l-1.5 6.5l-4.5 3l-1 3l0.5 13.5l-2.5 4.5l-13 16.5l-0.5 3l0.5 10.5l-3 10.5l3 4.5l8.5 5l17.5 7l15.5 7.5l4.5 1l5.5 0l0 26.5l-11.5 16l-4.5 3l-3 -0.5l-3 -4.5l-1.5 -7l-2 -18l-1.5 -4.5l-2.5 -4.5l-3 -3l-4.5 -3l-22.5 -9.5l-9 -5.5l-5 -4.5l-4.5 -6l-8.5 -5.5l-2.5 -3.5l-1.5 -6l0.5 -4.5l2.5 -4.5l4 -3l4.5 0l4.5 2.5l2.5 3.5l0.5 11.5l1.5 3.5l4.5 2l3 0l3 -1l3 -2.5l1.5 -3l0 -4.5l-1.5 -3.5l-4 -5.5l0 -3l14.5 -20.5l3 -5l1 -3l-0.5 -6l-5 -19.5l0 -4.5l3 0.5l9.5 4l5.5 1.5l3.5 -1.5zM569 102.5l-2 1.5l-1.5 2.5l0 5l3 4l1.5 0.5l3 -0.5l3 -3l0.5 -5.5l-1.5 -3l-2 -1.5l-1.5 -0.5zM502.5 98l1.5 -1l1.5 0l3 2.5l2.5 4.5l1.5 4.5l0 6l-1.5 4.5l-2.5 4.5l-3 2.5l-1.5 0l-3 -3l-2 -4l-1 -4.5l0.5 -9l1.5 -4.5zM503.5 99.5l-2.5 2l-1.5 2.5l-1.5 7.5l1.5 7.5l2 3l2.5 2l3 -1l2 -2.5l2 -4.5l0.5 -4.5l-0.5 -4.5l-2 -4.5l-3.5 -3zM559.5 213l4.5 -0.5l6 -0.5l6 1.5l4.5 1.5l4.5 3l3 3l1.5 3l0 3l-16.5 0l-1.5 -3l-4.5 -1.5l-3 0l-3 1.5l-1 3l-14 0l1 -4.5l3.5 -4.5l4.5 -3z"/>
<path fill="#f2f2ff" stroke="#f2f2ff" d="M400.5 36.5l27 0l1 1.5l2.5 1.5l8.5 2l4.5 1.5l3 2l3 3.5l0.5 3l-1.5 7.5l0 7.5l-5.5 12l-1 3l6 21l1 9l-0.5 9l-3.5 16l-9.5 21.5l-2.5 7.5l-13 61.5l-41 0l0 -30l7.5 -13.5l10 -22.5l4 -6l4 -4.5l18 -14.5l6 -6l4.5 -6.5l3 -7.5l-0.5 -6l-1 -4.5l-3.5 -6l-7 -9l-1 -3l0.5 -10.5l-1.5 -1.5l-6 -3l-1 -1.5l-0.5 -3l2 -4.5l-0.5 -3l-9.5 -6l-3 -3l-3 -9l-1.5 -6zM549 36.5l81 0l-3 6.5l-1.5 1.5l-3 1l-5.5 -1.5l-9.5 -4l-3 -0.5l0 4.5l5 19.5l0.5 6l-1 3l-3 5l-14.5 20.5l0 3l4 5.5l1.5 3.5l0 4.5l-1.5 3l-3 2.5l-3 1l-3 0l-4.5 -2l-1.5 -3.5l-0.5 -11.5l-2.5 -3.5l-4.5 -2.5l-4.5 0l-4 3l-2.5 4.5l-0.5 6l1.5 4.5l2.5 3.5l8.5 5.5l4.5 6l5 4.5l9 5.5l22.5 9.5l4.5 3l3 3l2.5 4.5l1.5 4.5l2.5 22.5l2 4.5l2 2.5l3 0.5l3 -1.5l13 -17.5l0 50.5l-62.5 0l0 -3l-1.5 -3l-4.5 -4.5l-7.5 -3l-9 -1.5l-7.5 1l-7 3.5l-4.5 4.5l-1.5 3l-0.5 3l-22.5 0l2 -4.5l3 -4.5l10.5 -10.5l3.5 -4.5l2.5 -6l1.5 -7.5l2 -33l-0.5 -31.5l1.5 -34.5l-2 -54zM587 107l-2.5 3l0 4.5l3.5 3l3 0l3.5 -3l0 -4.5l-3.5 -3zM504 93l1.5 0l1.5 1l4 7l1.5 4.5l1 6l-1 6l-1.5 4.5l-4 6.5l-1.5 1.5l-1.5 0l-1.5 -1l-4 -8.5l-1.5 -9l0.5 -6l1.5 -4.5l3.5 -7zM502.5 98l-2.5 3l-1.5 4.5l-0.5 9l1 4.5l2 4l3 3l1.5 0l3 -2.5l2.5 -4.5l1.5 -4.5l0 -6l-1.5 -4.5l-2.5 -4.5l-3 -2.5l-1.5 0z"/>
<path fill="#fff2f2" stroke="#fff2f2" d="M429 36.5l118.5 0l2 57l-1.5 31.5l0.5 36l-2 28.5l-1.5 7.5l-2.5 6l-3.5 4.5l-10.5 10.5l-3 4.5l-2 4.5l-103 0l13 -61.5l2.5 -7.5l9.5 -21.5l3 -11.5l1 -9l-1.5 -15l-5.5 -19.5l1 -3l5.5 -12l0 -7.5l1.5 -9l-2 -3.5l-3 -2.5l-6 -2.5l-8.5 -2l-2.5 -1.5l-1 -1.5zM480.5 47l-6.5 3.5l-4.5 4.5l-5.5 10l-3 9l-3 19.5l-1 43.5l1 12l1 10.5l2 9l2.5 7.5l3.5 6l4 4.5l4.5 3l6 1l3 -0.5l4.5 -2l7.5 -7l5.5 -8l8 -17.5l3 -3.5l3 -1l9 0.5l3 -1l3 -3l3.5 -6l2.5 -8l2 -13l0.5 -10.5l-0.5 -9l-2 -10.5l-3 -8.5l-3 -5l-3 -3l-3 -1l-3 0l-7.5 1.5l-3 -1l-3 -3.5l-7.5 -12.5l-6 -7l-3 -2l-4.5 -1.5l-3 -0.5zM505.5 89l3 0.5l2.5 4l2.5 9l0.5 9l-0.5 9l-2.5 9l-2.5 3.5l-3 0.5l-3 -0.5l-2.5 -3.5l-3 -10.5l-0.5 -7.5l0.5 -7.5l3 -10.5l2.5 -3.5zM503 93.5l-4.5 9l-1 4.5l-0.5 6l1 6l3 7l2.5 3.5l2 0.5l3 -3.5l3.5 -6l1 -4.5l0 -6l-0.5 -6l-2.5 -5.5l-3.5 -5l-2.5 -0.5zM588 106.5l3 0.5l1.5 0.5l2 4l-0.5 3.5l-3 2.5l-3 0l-1.5 -1l-2 -3.5l0.5 -4zM588 111.5l0 1.5l1.5 1l2 -1l-0.5 -2l-1.5 -0.5z"/>
<path fill="#ffd9d9" stroke="#ffd9d9" d="M481.5 46.5l3 0l4.5 0.5l7 4.5l5 6l7.5 12.5l3 3.5l3 1l7.5 -1.5l3 0l3 1l3 3l3.5 6l2.5 7.5l2 10.5l1 10.5l-1 10.5l-2 12l-2.5 7.5l-3.5 6l-3 3l-3 1l-9 -0.5l-3 1l-3 3.5l-8 17.5l-5.5 8l-7.5 7l-4.5 2l-3 0.5l-6 -1l-4.5 -3l-4 -4.5l-3.5 -6l-2.5 -7.5l-2 -10.5l-2 -22.5l1 -43.5l1.5 -10.5l1.5 -9l3.5 -9l5 -8.5l6 -5.5zM480.5 69.5l-3.5 2l-3 3l-5.5 10l-4 15l-1.5 15l2 25.5l3.5 15l2.5 6.5l3 4.5l3 2.5l4.5 1l3 -0.5l3 -1.5l5.5 -6.5l5 -11l3 -11.5l-3 -7.5l-2 -16.5l0 -9l2.5 -19.5l-0.5 -2.5l-3 -6l-4.5 -5.5l-4.5 -2.5l-3 -0.5zM505 89l-2.5 1l-2.5 3.5l-3 10.5l-0.5 7.5l0.5 7.5l3 10.5l2.5 3.5l3 0.5l3 -0.5l2.5 -3.5l2.5 -10.5l0.5 -9l-0.5 -7.5l-3 -10.5l-2 -2.5zM520.5 92l-3 3l-2 4.5l0 22.5l1 4.5l2.5 4l3 2.5l3 0.5l4.5 -2.5l3.5 -6l2.5 -9l0.5 -7.5l-2.5 -9l-4 -6.5l-4.5 -2.5zM588 111.5l1.5 -1l1.5 0.5l0.5 2l-2 1l-1.5 -1z"/>
<path fill="#ffbfbf" stroke="#ffbfbf" d="M481.5 69l4.5 0.5l4.5 2.5l4.5 5.5l3.5 7l-2.5 28.5l2 18l3 7.5l-3 11.5l-5 11l-5.5 6.5l-3 1.5l-3 0.5l-4.5 -1l-3 -2.5l-3 -5l-3 -7l-3 -15.5l-2 -25.5l1.5 -15l5 -15.5l3 -6l3 -3.5l3 -2.5zM482 84.5l-5 2.5l-6 7.5l-3 8l-1.5 9l1 10.5l6 19.5l3.5 7l1.5 1.5l3 1.5l4.5 -1.5l4.5 -6l3.5 -8.5l1.5 -10.5l-0.5 -25.5l-1 -6l-2 -4l-3 -3l-3 -1.5zM522 91l4.5 0l4.5 3.5l4 8l1 7.5l-1 9l-2 6l-3.5 6l-4.5 2.5l-4.5 -1.5l-3 -3l-1.5 -4l-1 -4.5l0.5 -21l2 -4.5zM522.5 96.5l-3.5 2.5l-2 3.5l-1 6l0 7.5l1 4.5l2 4l3 2l3 1l4.5 -2.5l2.5 -4.5l2 -6l0 -6l-2 -6l-2.5 -4l-3 -2z"/>
<path fill="#ffa6a6" stroke="#ffa6a6" d="M483 84.5l4.5 1l3 2.5l3 4l1 3l0.5 4.5l0.5 25.5l-1.5 10.5l-3.5 8.5l-4.5 6l-4.5 1.5l-3 -1.5l-1.5 -1.5l-3.5 -7l-6 -19.5l-1 -10.5l1.5 -9l3.5 -9l5.5 -6.5l3 -2zM479.5 92l-4.5 3l-4 6l-2 6l0 7.5l1.5 7.5l3.5 7l4.5 5l4.5 1.5l3 -1l3 -2.5l3 -4l1.5 -3l0.5 -6l0 -15l-1.5 -6l-3.5 -4.5l-4.5 -2zM523.5 96l4.5 1l2.5 2.5l2.5 4.5l1 6l-0.5 6l-2 6l-3.5 4l-3 1.5l-3 -1l-3.5 -3l-2 -4.5l-0.5 -4.5l0 -7.5l1.5 -5.5l3 -4zM522 99.5l-3 3l-1.5 3l-0.5 9l1 4.5l2 3l2 1.5l3 1l3 -1.5l3 -4l1.5 -4.5l0 -6l-1.5 -4.5l-3 -4l-3 -1z"/>
<path fill="#ff8c8c" stroke="#ff8c8c" d="M480 91.5l4.5 0l4.5 2l3.5 4.5l1.5 6l0 15l-0.5 6l-1.5 3l-3 4l-3 2.5l-3 1l-4.5 -1.5l-4.5 -5l-3.5 -7l-1.5 -7.5l0 -7.5l2.5 -7.5l4 -5zM480 95l-4.5 3l-3 4.5l-2 6l0 6l1.5 6l3.5 6l3 2.5l4.5 1l4.5 -1.5l3 -3l1.5 -3l1.5 -6.5l-0.5 -9l-1 -5.5l-3 -4.5l-4.5 -2.5zM522 99.5l3 -0.5l3 1l3 4l1.5 4.5l0 6l-1.5 4.5l-3 4l-3 1.5l-3 -1l-2 -1.5l-2 -3l-1 -4.5l0.5 -9l1.5 -3zM523.5 101l-3 2l-1.5 2.5l-1 7.5l1 4.5l1.5 2.5l1.5 1.5l3 1l3 -1.5l1.5 -2l1.5 -4.5l0.5 -4.5l-1.5 -4.5l-2 -3l-1.5 -1z"/>
<path fill="#ff7373" stroke="#ff7373" d="M481.5 94.5l4.5 0.5l4.5 3.5l2.5 5.5l0.5 6l-0.5 7.5l-1.5 6l-4 5l-4.5 1.5l-4.5 -1l-4 -4l-3 -6l-1 -6l0.5 -6l2.5 -6l3.5 -4.5zM478.5 98l-3 3l-2.5 4.5l-1 4.5l0.5 6l1.5 4.5l3 4l3 2l4.5 0.5l4.5 -3l2 -3.5l1.5 -6l-0.5 -8.5l-1.5 -4l-3 -3.5l-4.5 -1.5zM523.5 101l3 0.5l1.5 1l2 3l1.5 4.5l-0.5 4.5l-1.5 4.5l-1.5 2l-3 1.5l-3 -1l-1.5 -1.5l-1.5 -2.5l-1 -4.5l1 -7.5l1.5 -2.5zM521.5 104l-2.5 4.5l0 6l2.5 4.5l2 1.5l1.5 0l3 -2l1.5 -2.5l0.5 -3l0 -4.5l-1.5 -3l-2 -2.5l-3 -0.5z"/>
<path fill="#ff5959" stroke="#ff5959" d="M480 97.5l4.5 -0.5l4 2.5l3 4.5l1 4.5l0 7.5l-2 6l-3 3.5l-4.5 1.5l-4.5 -1l-2.5 -2.5l-3 -4.5l-1 -4.5l0 -6l1.5 -4.5l3 -4.5zM479.5 99.5l-2.5 2l-2.5 4l-1.5 4.5l0.5 4.5l1.5 4.5l2 3.5l3 2l3 0.5l4.5 -2l3 -4l1 -4.5l0 -6l-1.5 -4.5l-2.5 -3.5l-4.5 -1.5zM522 103.5l1.5 -1l3 0.5l2 2.5l1.5 3l0 4.5l-0.5 3l-1.5 2.5l-3 2l-1.5 0l-2 -1.5l-2.5 -4.5l0 -6l1.5 -3zM522 105.5l-2 4.5l0.5 4.5l1.5 3l3 1.5l2 -1.5l2 -3l0 -6l-2.5 -3.5l-3 -0.5z"/>
<path fill="#ff4040" stroke="#ff4040" d="M480 99.5l4.5 -0.5l3 1.5l2.5 3.5l1.5 4.5l0 6l-1 4.5l-3 4l-4.5 2l-3 -0.5l-3 -2l-2 -3.5l-1.5 -4.5l-0.5 -4.5l1.5 -4.5l2.5 -4zM480.5 101l-2.5 1.5l-2.5 3l-1 3l0 4.5l1 4.5l1.5 2.5l3 2.5l3 0.5l3 -1l3 -3l1.5 -4.5l0 -4.5l-1 -4.5l-2 -3l-3 -1.5zM522 105.5l1.5 -1l3 0.5l2.5 3.5l0 6l-2 3l-2 1.5l-3 -1.5l-1.5 -3l-0.5 -4.5zM522.5 107l-1.5 3l0 3l1.5 3l2.5 1l1.5 -1l1 -1.5l0.5 -4.5l-1.5 -3l-1.5 -1z"/>
<path fill="#ff2626" stroke="#ff2626" d="M481.5 100.5l3 0.5l3 1.5l2 3l1 4.5l0 4.5l-1.5 4.5l-3 3l-3 1l-3 -0.5l-3 -2.5l-1.5 -2.5l-1 -4.5l0 -4.5l1 -3l3 -3.5zM480.5 102.5l-2 1.5l-2 3l-1 6l0.5 3l2 3l2 1.5l3 1l3 -1.5l2 -2.5l1.5 -3l0 -4.5l-1.5 -4.5l-2 -2l-3 -1.5zM523.5 106l1.5 0l1.5 1l1.5 3l-0.5 4.5l-1 1.5l-1.5 1l-2.5 -1l-1.5 -3l0.5 -4.5zM523.5 108.5l-1 1.5l0 3l1 2l1.5 0l1.5 -2l0 -3l-1.5 -2z"/>
<path fill="#ff0d0d" stroke="#ff0d0d" d="M481.5 102l3 0.5l2.5 1.5l1.5 3l1 3l0 4.5l-1.5 3l-2 2.5l-3 1.5l-3 -1l-2 -1.5l-2 -3l-0.5 -3l0.5 -4.5l1 -2.5l1.5 -2zM481 104l-3 3l-1.5 3l0 3l2 4.5l1.5 1.5l3 0.5l3 -1.5l1.5 -2l1 -3l0 -3l-1 -3l-1.5 -2l-3 -1.5zM523.5 108.5l1.5 -0.5l1.5 2l0 3l-1.5 2l-1.5 0l-1 -2l0 -3z"/>
<path fill="#f90000" stroke="#f90000" d="M481.5 104l3 0l1.5 1l1.5 2l1 3l0 3l-1 3l-1.5 2l-3 1.5l-3 -0.5l-1.5 -1.5l-2 -4.5l0 -3l1.5 -3l2 -2.5zM481.5 105.5l-3 3l-0.5 4.5l2 4l3 1l3 -2l1 -3l0 -3l-1 -2.5l-1.5 -1.5z"/>
<path fill="#ec0000" stroke="#ec0000" d="M481.5 105.5l3 0.5l1.5 1.5l1 2.5l0 3l-1 3l-3 2l-3 -1l-2 -4l0.5 -4.5zM480.5 108.5l-1 1.5l0 3l2 3l1.5 0l1.5 -1l1 -2l0 -3l-1 -2l-1.5 -0.5z"/>
<path fill="#df0000" stroke="#df0000" d="M481.5 107.5l1.5 0l1.5 0.5l1.5 3.5l-1 3l-2 1.5l-1.5 0l-2 -3l0 -3z"/></g></g>
<line x1="379.7" y1="111.7" x2="652.0" y2="111.7" stroke="#000" stroke-width="2" stroke-dasharray="5.3 5.68"/>
<rect x="379.5" y="36.5" width="272.5" height="190.5" fill="none" stroke="#000" stroke-width="1.2"/>
<path d="M448.0 36.5v6M448.0 227.0v-6M516.0 36.5v6M516.0 227.0v-6M584.0 36.5v6M584.0 227.0v-6M379.5 131.8h6M652.0 131.8h-6" stroke="#000" stroke-width="1.2" fill="none"/>
<linearGradient id="cbg" x1="0" y1="1" x2="0" y2="0"><stop offset="0" stop-color="#000094"/><stop offset="0.1875" stop-color="#0000ff"/><stop offset="0.5" stop-color="#ffffff"/><stop offset="0.8125" stop-color="#ff0000"/><stop offset="1" stop-color="#b20000"/></linearGradient>
<rect x="658.4" y="36.6" width="11" height="190.4" fill="url(#cbg)" stroke="#000" stroke-width="1.2"/>
<path d="M669.4 131.8h-4.5" stroke="#000" stroke-width="1.2"/>
<clipPath id="cc"><rect x="878.5" y="33.6" width="269.5" height="193.20000000000002"/></clipPath>
<g clip-path="url(#cc)"><path d="M878.0 128.8C878.8 128.2 881.0 126.1 883.0 125.3C885.0 124.5 883.8 124.4 890.0 124.0C896.2 123.6 911.7 123.3 920.0 123.0C928.3 122.7 934.7 122.4 940.0 122.0C945.3 121.6 949.3 120.8 952.0 120.8C954.7 120.8 954.7 121.1 956.0 122.0C957.3 122.9 958.3 124.2 960.0 126.0C961.7 127.8 964.6 131.1 966.0 132.6C967.4 134.1 967.7 135.3 968.5 135.0C969.3 134.7 970.2 133.2 971.0 131.0C971.8 128.8 972.3 125.8 973.0 122.0C973.7 118.2 974.2 113.0 975.0 108.0C975.8 103.0 976.6 98.0 977.5 92.0C978.4 86.0 979.5 78.0 980.5 72.0C981.5 66.0 982.3 59.6 983.2 56.0C984.1 52.4 985.0 50.2 986.0 50.5C987.0 50.8 988.0 53.4 989.0 58.0C990.0 62.6 990.9 71.0 991.8 78.0C992.7 85.0 993.2 91.3 994.2 100.0C995.2 108.7 996.4 120.0 997.5 130.0C998.6 140.0 999.9 151.7 1001.0 160.0C1002.1 168.3 1003.0 175.4 1004.0 180.0C1005.0 184.6 1005.8 187.8 1006.8 187.5C1007.8 187.2 1009.0 182.9 1010.0 178.0C1011.0 173.1 1012.1 166.0 1013.0 158.0C1013.9 150.0 1014.5 137.7 1015.3 130.0C1016.1 122.3 1017.0 117.0 1018.0 112.0C1019.0 107.0 1020.4 101.5 1021.6 99.7C1022.8 97.9 1023.9 99.9 1025.0 101.0C1026.1 102.1 1026.8 103.7 1028.3 106.5C1029.8 109.3 1032.0 114.4 1034.0 118.0C1036.0 121.6 1038.2 126.2 1040.0 128.0C1041.8 129.8 1043.3 128.9 1045.0 128.8C1046.7 128.7 1048.3 127.2 1050.0 127.4C1051.7 127.7 1053.3 129.0 1055.0 130.3C1056.7 131.6 1058.6 134.3 1060.0 135.2C1061.4 136.1 1062.4 136.4 1063.5 135.5C1064.6 134.6 1065.4 132.3 1066.5 130.0C1067.6 127.7 1068.9 124.9 1070.0 121.5C1071.1 118.1 1072.0 114.0 1073.0 109.8C1074.0 105.5 1075.0 101.0 1076.0 96.0C1077.0 91.0 1078.0 83.9 1079.0 80.0C1080.0 76.1 1080.9 72.7 1082.0 72.7C1083.1 72.7 1084.3 74.6 1085.5 80.0C1086.7 85.4 1087.8 95.8 1089.0 105.0C1090.2 114.2 1091.4 126.7 1092.5 135.0C1093.6 143.3 1094.4 149.7 1095.5 155.0C1096.6 160.3 1097.8 164.6 1099.0 167.0C1100.2 169.4 1101.4 170.4 1102.6 169.7C1103.8 169.0 1104.9 165.7 1106.0 163.0C1107.1 160.3 1108.1 158.4 1109.4 153.8C1110.7 149.2 1112.5 139.9 1114.0 135.5C1115.5 131.1 1116.8 129.3 1118.5 127.5C1120.2 125.7 1121.9 123.6 1124.2 124.6C1126.5 125.5 1129.7 130.8 1132.2 133.2C1134.7 135.6 1137.1 137.8 1139.0 139.0C1140.9 140.2 1142.1 140.3 1143.6 140.1C1145.1 139.9 1147.3 138.2 1148.0 137.8" fill="none" stroke="#000" stroke-width="1.9" stroke-dasharray="5.6 5.35"/><path d="M878.0 148.3C878.7 147.7 880.7 145.7 882.0 144.6C883.3 143.5 883.7 142.9 886.0 141.8C888.3 140.8 892.7 139.4 896.0 138.3C899.3 137.2 902.7 136.3 906.0 135.4C909.3 134.5 912.7 133.7 916.0 132.8C919.3 131.9 922.0 131.1 926.0 130.2C930.0 129.3 936.0 128.0 940.0 127.2C944.0 126.4 947.5 125.8 950.0 125.6C952.5 125.4 953.3 125.5 955.0 126.3C956.7 127.0 958.3 128.4 960.0 130.1C961.7 131.8 963.7 134.7 965.0 136.2C966.3 137.7 967.0 139.0 968.0 139.1C969.0 139.2 970.0 138.5 971.0 136.6C972.0 134.7 973.2 131.1 974.0 127.7C974.8 124.3 975.3 120.9 976.0 116.3C976.7 111.7 977.2 106.9 978.0 100.0C978.8 93.1 979.7 82.0 980.5 75.0C981.3 68.0 982.1 62.4 983.0 58.0C983.9 53.6 984.7 48.5 985.6 48.8C986.5 49.1 987.3 54.8 988.2 60.0C989.1 65.2 990.0 73.3 990.8 80.0C991.6 86.7 992.2 91.7 993.1 100.0C994.0 108.3 995.3 120.0 996.4 130.0C997.5 140.0 998.7 151.7 999.8 160.0C1000.9 168.3 1001.9 174.9 1003.0 180.0C1004.1 185.1 1005.2 190.2 1006.3 190.5C1007.4 190.8 1008.5 187.1 1009.5 182.0C1010.5 176.9 1011.6 168.7 1012.5 160.0C1013.4 151.3 1013.9 137.7 1014.7 130.0C1015.6 122.3 1016.5 118.5 1017.6 114.0C1018.7 109.5 1020.3 104.5 1021.5 103.0C1022.7 101.5 1023.8 103.4 1025.0 105.0C1026.2 106.6 1027.0 109.2 1028.5 112.4C1030.0 115.6 1032.4 120.4 1034.3 124.0C1036.2 127.6 1038.1 132.1 1040.0 134.0C1041.9 135.9 1043.9 135.4 1045.7 135.5C1047.5 135.6 1049.0 134.2 1050.6 134.6C1052.2 135.0 1053.5 136.7 1055.5 138.1C1057.5 139.5 1060.5 143.0 1062.4 143.0C1064.4 143.0 1065.9 140.7 1067.2 138.1C1068.5 135.5 1069.2 131.3 1070.2 127.4C1071.2 123.5 1072.2 119.3 1073.1 114.7C1074.0 110.1 1074.6 104.8 1075.5 100.0C1076.4 95.2 1077.4 89.2 1078.5 86.0C1079.6 82.8 1080.8 80.2 1082.0 80.5C1083.2 80.8 1084.2 81.4 1085.5 88.0C1086.8 94.6 1088.1 108.0 1089.6 120.0C1091.1 132.0 1093.3 150.8 1094.7 160.0C1096.1 169.2 1096.9 171.7 1098.0 175.0C1099.1 178.3 1099.9 180.5 1101.4 180.0C1102.9 179.5 1105.4 176.0 1107.1 172.0C1108.8 168.0 1110.2 161.1 1111.7 156.0C1113.2 150.9 1114.5 144.6 1116.2 141.2C1117.9 137.8 1119.7 135.3 1122.0 135.3C1124.3 135.3 1127.5 138.9 1130.0 141.2C1132.5 143.5 1134.9 147.5 1136.8 149.2C1138.7 150.9 1139.4 151.5 1141.3 151.5C1143.2 151.5 1146.9 149.6 1148.0 149.2" fill="none" stroke="#0000ff" stroke-width="2"/><path d="M878.79 151.27h0M883.90 146.79h0M889.64 143.19h0M896.02 140.84h0M902.55 138.95h0M909.14 137.26h0M915.73 135.61h0M922.33 133.96h0M928.76 131.78h0M935.31 129.92h0M941.95 128.49h0M948.54 126.81h0M955.10 126.02h0M960.70 129.77h0M965.71 134.35h0M970.58 131.21h0M972.46 124.68h0M973.66 117.99h0M974.59 111.25h0M975.42 104.50h0M976.15 97.74h0M976.89 90.98h0M977.67 84.23h0M978.46 77.47h0M979.24 70.72h0M979.98 63.96h0M980.70 57.20h0M981.69 50.47h0M982.91 43.78h0M985.71 37.83h0M987.74 44.08h0M988.67 50.81h0M989.45 57.57h0M990.31 64.31h0M991.10 71.07h0M991.79 77.83h0M992.45 84.60h0M993.11 91.37h0M993.80 98.13h0M994.55 104.89h0M995.34 111.65h0M996.14 118.40h0M996.94 125.15h0M997.71 131.91h0M998.46 138.67h0M999.19 145.43h0M999.91 152.19h0M1000.66 158.95h0M1001.40 165.71h0M1002.07 172.47h0M1002.74 179.24h0M1003.50 186.00h0M1005.23 192.28h0M1007.22 185.86h0M1008.52 179.18h0M1009.51 172.45h0M1010.34 165.71h0M1011.12 158.95h0M1011.82 152.19h0M1012.46 145.42h0M1013.10 138.65h0M1013.79 131.88h0M1014.56 125.13h0M1015.38 118.38h0M1016.29 111.64h0M1017.40 104.93h0M1018.91 98.30h0M1022.72 94.88h0M1026.00 100.77h0M1028.03 107.26h0M1030.00 113.77h0M1032.01 120.27h0M1034.60 126.55h0M1038.34 132.21h0M1044.41 134.89h0M1051.06 133.91h0M1056.56 137.57h0M1061.25 142.34h0M1067.14 141.03h0M1069.48 134.65h0M1071.19 128.08h0M1072.27 121.36h0M1073.49 114.67h0M1074.76 107.99h0M1075.94 101.30h0M1076.98 94.58h0M1078.67 88.00h0M1082.46 83.19h0M1085.36 89.20h0M1086.68 95.87h0M1087.63 102.60h0M1088.47 109.35h0M1089.28 116.10h0M1090.11 122.85h0M1090.91 129.60h0M1091.67 136.36h0M1092.44 143.11h0M1093.26 149.86h0M1094.26 156.59h0M1095.59 163.26h0M1097.33 169.83h0M1099.76 176.16h0M1104.76 175.75h0M1107.20 169.41h0M1109.19 162.91h0M1110.92 156.33h0M1112.51 149.72h0M1114.62 143.26h0M1118.51 137.80h0M1124.89 137.90h0M1130.35 141.93h0M1135.02 146.87h0M1139.50 151.98h0M1144.77 154.10h0" fill="none" stroke="#ff0000" stroke-width="3.1" stroke-linecap="round"/></g>
<rect x="878.5" y="36.6" width="269.5" height="190.20000000000002" fill="none" stroke="#000" stroke-width="1.2"/>
<path d="M945.8 36.6v6M945.8 226.8v-6M1013.0 36.6v6M1013.0 226.8v-6M1080.7 36.6v6M1080.7 226.8v-6M878.5 131.6h6M1148.0 131.6h-6" stroke="#000" stroke-width="1.2" fill="none"/>
<line x1="884.1" y1="180.25" x2="911.9" y2="180.25" stroke="#000" stroke-width="1.9" stroke-dasharray="5.6 5.35"/>
<circle cx="897.9" cy="195.7" r="1.5" fill="#ff0000"/>
<line x1="883.9" y1="214" x2="911.8" y2="214" stroke="#0000ff" stroke-width="2"/>
<text x="922.5" y="184.5" font-size="15.7" text-anchor="start">Simulated</text>
<text x="924.0" y="202.0" font-size="15.7" text-anchor="start">Finite difference</text>
<text x="924.0" y="219.0" font-size="15.7" text-anchor="start">Green’s function</text>
<g><text x="-0.6" y="25.6" font-size="29.6">(<tspan font-style="italic">a</tspan>)</text><text x="378.6" y="23.8" font-size="29.2">(<tspan font-style="italic">b</tspan>)</text><text x="777.6" y="24.6" font-size="29.6">(<tspan font-style="italic">c</tspan>)</text><text x="84.0" y="45.2" font-size="25" text-anchor="end">1.0</text><text x="84.0" y="141.0" font-size="25" text-anchor="end">0.5</text><text x="78.4" y="259.0" font-size="25" text-anchor="middle">0</text><text x="162.8" y="259.0" font-size="25" text-anchor="middle">0.5</text><text x="232.6" y="259.0" font-size="25" text-anchor="middle">1.0</text><text x="300.2" y="259.0" font-size="25" text-anchor="middle">1.5</text><text x="379.8" y="258.0" font-size="25" text-anchor="middle">0</text><text x="447.6" y="258.0" font-size="25" text-anchor="middle">0.5</text><text x="515.7" y="258.0" font-size="25" text-anchor="middle">1.0</text><text x="584.0" y="258.0" font-size="25" text-anchor="middle">1.5</text><text x="653.8" y="258.0" font-size="25" text-anchor="middle">2.0</text><text x="877.4" y="257.6" font-size="25" text-anchor="middle">0</text><text x="944.7" y="257.6" font-size="25" text-anchor="middle">0.5</text><text x="1012.7" y="257.6" font-size="25" text-anchor="middle">1.0</text><text x="1080.7" y="257.6" font-size="25" text-anchor="middle">1.5</text><text x="1148.9" y="257.6" font-size="25" text-anchor="middle">2.0</text><text x="231.5" y="300" font-size="30" text-anchor="middle"><tspan font-style="italic">x</tspan> (m)</text><text x="516.5" y="300" font-size="30" text-anchor="middle"><tspan font-style="italic">x</tspan> (m)</text><text x="1013.5" y="300" font-size="30" text-anchor="middle"><tspan font-style="italic">x</tspan> (m)</text><text transform="translate(25,134) rotate(-90)" font-size="29.6" text-anchor="middle"><tspan font-style="italic">z</tspan> (m)</text><text transform="translate(805.5,133) rotate(-90)" font-size="30" text-anchor="middle"><tspan font-style="italic">p</tspan> (Pa)</text><text x="681.9" y="42" font-size="25">10</text><text x="714.6" y="42" font-size="25" font-style="italic">%</text><text x="682.8" y="139.15" font-size="25">0</text><text x="703.4" y="139.15" font-size="25" font-style="italic">%</text><rect x="685.3" y="229.3" width="15.4" height="1.3" fill="#000"/><text x="701.9" y="236.5" font-size="25">10</text><text x="734.6" y="236.5" font-size="25" font-style="italic">%</text><text x="866.5" y="43.2" font-size="25" text-anchor="end">0.08</text><text x="869.5" y="139.2" font-size="25" text-anchor="end">0</text><text x="865.5" y="236.3" font-size="25" text-anchor="end">−0.08</text></g></svg></body></html>
